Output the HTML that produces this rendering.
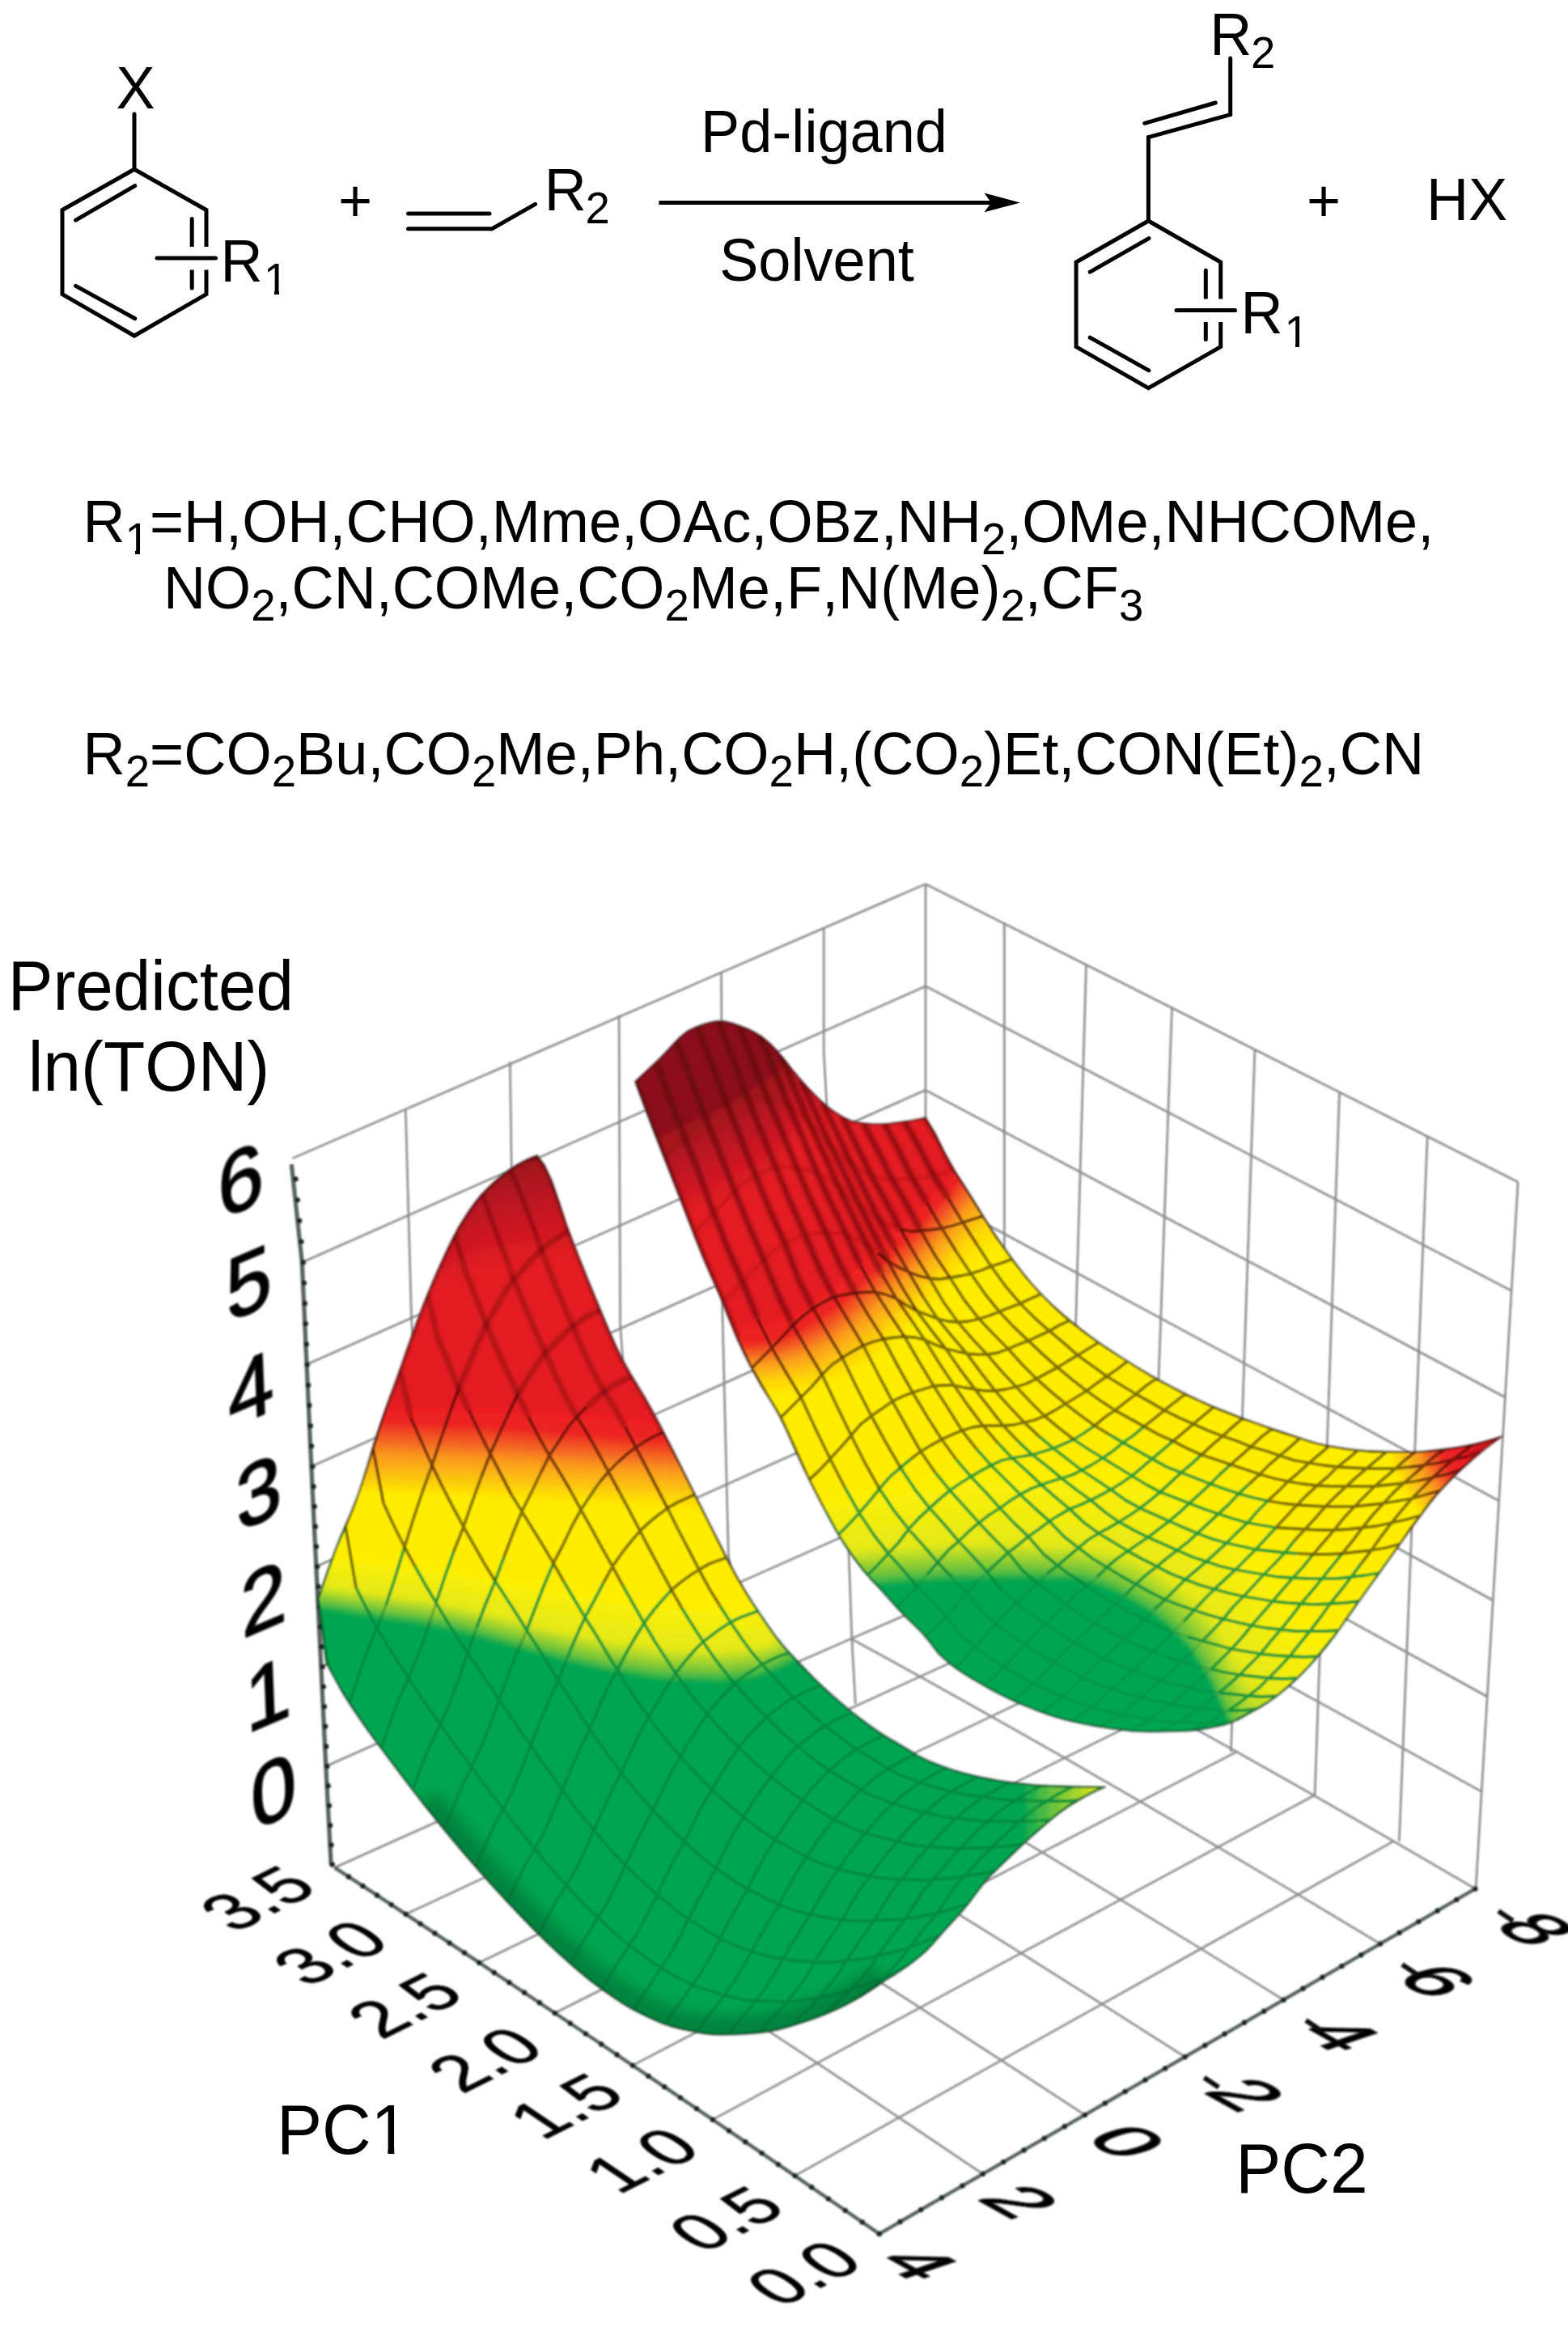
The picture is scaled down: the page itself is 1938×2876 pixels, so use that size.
<!DOCTYPE html>
<html><head><meta charset="utf-8"><title>Heck reaction figure</title>
<style>
html,body{margin:0;padding:0;background:#fff;}
svg{display:block;}
text{font-family:"Liberation Sans",Arial,Helvetica,sans-serif;fill:#000;font-kerning:none;}
</style></head><body>
<svg width="1938" height="2876" viewBox="0 0 1938 2876">
<rect width="1938" height="2876" fill="#fff"/>
<g id="plot">
<defs><filter id="blur6" x="-10%" y="-10%" width="120%" height="120%"><feGaussianBlur stdDeviation="9"/></filter><filter id="soft2" x="-2%" y="-2%" width="104%" height="104%"><feGaussianBlur stdDeviation="2.5"/><feComponentTransfer><feFuncA type="linear" slope="6" intercept="0"/></feComponentTransfer></filter><filter id="soft3" x="-5%" y="-5%" width="110%" height="110%"><feGaussianBlur stdDeviation="2.2"/></filter><filter id="soft" x="-2%" y="-2%" width="104%" height="104%"><feGaussianBlur stdDeviation="0.9"/></filter></defs>
<g filter="url(#soft)">
<g id="grid" fill="none">
<polyline points="402.8,2183.0 1161.0,1846.0" fill="none" stroke="#888b8b" stroke-width="2.6" />
<polyline points="1161.0,1846.0 1831.4,2214.3" fill="none" stroke="#888b8b" stroke-width="2.6" />
<polyline points="397.2,2060.0 1153.0,1720.0" fill="none" stroke="#888b8b" stroke-width="2.6" />
<polyline points="1153.0,1720.0 1838.4,2097.0" fill="none" stroke="#888b8b" stroke-width="2.6" />
<polyline points="390.6,1936.3 1148.0,1596.0" fill="none" stroke="#888b8b" stroke-width="2.6" />
<polyline points="1148.0,1596.0 1845.4,1978.0" fill="none" stroke="#888b8b" stroke-width="2.6" />
<polyline points="384.8,1812.5 1145.0,1473.0" fill="none" stroke="#888b8b" stroke-width="2.6" />
<polyline points="1145.0,1473.0 1852.8,1855.0" fill="none" stroke="#888b8b" stroke-width="2.6" />
<polyline points="378.2,1686.7 1144.0,1347.3" fill="none" stroke="#888b8b" stroke-width="2.6" />
<polyline points="1144.0,1347.3 1860.4,1727.0" fill="none" stroke="#888b8b" stroke-width="2.6" />
<polyline points="373.3,1560.3 1144.0,1218.9" fill="none" stroke="#888b8b" stroke-width="2.6" />
<polyline points="1144.0,1218.9 1868.3,1595.4" fill="none" stroke="#888b8b" stroke-width="2.6" />
<polyline points="361.5,1431.6 1144.0,1092.6" fill="none" stroke="#888b8b" stroke-width="2.6" />
<polyline points="1144.0,1092.6 1876.2,1460.9" fill="none" stroke="#888b8b" stroke-width="2.6" />
<polyline points="501.3,1371.7 508.5,1628.7 545.4,2249.2" fill="none" stroke="#888b8b" stroke-width="2.6" />
<polyline points="630.4,1312.2 633.0,1500.0 675.2,2191.4" fill="none" stroke="#888b8b" stroke-width="2.6" />
<polyline points="765.1,1254.7 766.6,1638.0 802.9,2134.9" fill="none" stroke="#888b8b" stroke-width="2.6" />
<polyline points="891.6,1200.9 892.9,1622.0 900.3,1922.0 928.4,2079.5" fill="none" stroke="#888b8b" stroke-width="2.6" />
<polyline points="1018.2,1147.1 1018.2,1300.0 1044.0,1774.7 1052.8,2025.0 1057.3,2106.0" fill="none" stroke="#888b8b" stroke-width="2.6" />
<polyline points="1144.0,1092.6 1144.0,1389.0 1173.0,1972.5" fill="none" stroke="#888b8b" stroke-width="2.6" />
<polyline points="1241.3,1141.5 1241.3,2017.1" fill="none" stroke="#888b8b" stroke-width="2.6" />
<polyline points="1342.5,1192.4 1317.2,2064.0" fill="none" stroke="#888b8b" stroke-width="2.6" />
<polyline points="1448.5,1245.8 1417.3,2113.4" fill="none" stroke="#888b8b" stroke-width="2.6" />
<polyline points="1550.9,1297.3 1521.4,2165.1" fill="none" stroke="#888b8b" stroke-width="2.6" />
<polyline points="1655.5,1349.9 1625.1,2219.1" fill="none" stroke="#888b8b" stroke-width="2.6" />
<polyline points="1764.2,1404.6 1729.4,2275.6" fill="none" stroke="#888b8b" stroke-width="2.6" />
<polyline points="1876.2,1460.9 1824.0,2335.0" fill="none" stroke="#888b8b" stroke-width="2.6" />
<polyline points="545.4,2249.2 632.9,2304.6 723.2,2362.4 816.1,2422.5 911.7,2485.0 1010.1,2549.9 1111.1,2617.2 1214.8,2686.8" fill="none" stroke="#888b8b" stroke-width="2.6" />
<polyline points="675.2,2191.4 762.2,2244.6 851.9,2300.3 944.2,2358.2 1039.3,2418.6 1137.1,2481.3 1237.6,2546.4 1340.8,2613.9" fill="none" stroke="#888b8b" stroke-width="2.6" />
<polyline points="802.9,2134.9 889.3,2185.9 978.4,2239.4 1070.3,2295.2 1164.8,2353.4 1262.0,2413.9 1362.0,2476.9 1464.6,2542.2" fill="none" stroke="#888b8b" stroke-width="2.6" />
<polyline points="928.4,2079.5 1014.3,2128.4 1102.9,2179.7 1194.2,2233.4 1288.2,2289.4 1384.9,2347.8 1484.3,2408.5 1586.4,2471.7" fill="none" stroke="#888b8b" stroke-width="2.6" />
<polyline points="1051.9,2025.4 1137.2,2072.1 1225.2,2121.3 1315.9,2172.7 1409.4,2226.6 1505.5,2282.8 1604.4,2341.5 1705.9,2402.4" fill="none" stroke="#888b8b" stroke-width="2.6" />
<polyline points="1173.2,1972.5 1257.9,2017.1 1345.4,2064.0 1435.6,2113.4 1528.5,2165.1 1624.1,2219.1 1722.4,2275.6 1823.4,2334.4" fill="none" stroke="#888b8b" stroke-width="2.6" />
<polyline points="413.5,2308.2 545.4,2249.2 675.2,2191.4 802.9,2134.9 928.4,2079.5 1051.9,2025.4 1173.2,1972.5" fill="none" stroke="#888b8b" stroke-width="2.6" />
<polyline points="501.6,2365.8 632.9,2304.6 762.2,2244.6 889.3,2185.9 1014.3,2128.4 1137.2,2072.1 1257.9,2017.1" fill="none" stroke="#888b8b" stroke-width="2.6" />
<polyline points="592.3,2425.7 723.2,2362.4 851.9,2300.3 978.4,2239.4 1102.9,2179.7 1225.2,2121.3 1345.4,2064.0" fill="none" stroke="#888b8b" stroke-width="2.6" />
<polyline points="685.8,2488.0 816.1,2422.5 944.2,2358.2 1070.3,2295.2 1194.2,2233.4 1315.9,2172.7 1435.6,2113.4" fill="none" stroke="#888b8b" stroke-width="2.6" />
<polyline points="782.0,2552.7 911.7,2485.0 1039.3,2418.6 1164.8,2353.4 1288.2,2289.4 1409.4,2226.6 1528.5,2165.1" fill="none" stroke="#888b8b" stroke-width="2.6" />
<polyline points="880.9,2619.7 1010.1,2549.9 1137.1,2481.3 1262.0,2413.9 1384.9,2347.8 1505.5,2282.8 1624.1,2219.1" fill="none" stroke="#888b8b" stroke-width="2.6" />
<polyline points="982.5,2689.1 1111.1,2617.2 1237.6,2546.4 1362.0,2476.9 1484.3,2408.5 1604.4,2341.5 1722.4,2275.6" fill="none" stroke="#888b8b" stroke-width="2.6" />
</g>
<g id="axes">
<polyline points="360.3,1439.0 373.3,1560.3 384.8,1812.5 402.8,2183.0 409.2,2305.0" fill="none" stroke="#55625f" stroke-width="5.2" />
<polyline points="413.5,2308.2 457.2,2336.7 501.6,2365.8 546.6,2395.4 592.3,2425.7 638.7,2456.5 685.8,2488.0 733.6,2520.0 782.0,2552.7 831.1,2585.9 880.9,2619.7 931.3,2654.1 982.5,2689.1 1034.3,2724.7 1086.8,2760.9" fill="none" stroke="#55625f" stroke-width="4.4" />
<polyline points="1086.8,2760.9 1151.1,2723.7 1214.8,2686.8 1278.1,2650.2 1340.8,2613.9 1403.0,2577.9 1464.6,2542.2 1525.8,2506.8 1586.4,2471.7 1646.4,2436.9 1705.9,2402.4 1764.9,2368.3 1823.4,2334.4" fill="none" stroke="#55625f" stroke-width="4.4" />
<circle cx="410.7" cy="2304.5" r="3.2" fill="#1a2422"/>
<circle cx="409.4" cy="2280.2" r="3.2" fill="#1a2422"/>
<circle cx="408.1" cy="2255.9" r="3.2" fill="#1a2422"/>
<circle cx="406.9" cy="2231.6" r="3.2" fill="#1a2422"/>
<circle cx="405.6" cy="2207.3" r="3.2" fill="#1a2422"/>
<circle cx="404.3" cy="2183.0" r="3.2" fill="#1a2422"/>
<circle cx="403.2" cy="2158.4" r="3.2" fill="#1a2422"/>
<circle cx="402.1" cy="2133.8" r="3.2" fill="#1a2422"/>
<circle cx="400.9" cy="2109.2" r="3.2" fill="#1a2422"/>
<circle cx="399.8" cy="2084.6" r="3.2" fill="#1a2422"/>
<circle cx="398.7" cy="2060.0" r="3.2" fill="#1a2422"/>
<circle cx="397.4" cy="2035.3" r="3.2" fill="#1a2422"/>
<circle cx="396.1" cy="2010.5" r="3.2" fill="#1a2422"/>
<circle cx="394.7" cy="1985.8" r="3.2" fill="#1a2422"/>
<circle cx="393.4" cy="1961.0" r="3.2" fill="#1a2422"/>
<circle cx="392.1" cy="1936.3" r="3.2" fill="#1a2422"/>
<circle cx="390.9" cy="1911.5" r="3.2" fill="#1a2422"/>
<circle cx="389.8" cy="1886.8" r="3.2" fill="#1a2422"/>
<circle cx="388.6" cy="1862.0" r="3.2" fill="#1a2422"/>
<circle cx="387.5" cy="1837.3" r="3.2" fill="#1a2422"/>
<circle cx="386.3" cy="1812.5" r="3.2" fill="#1a2422"/>
<circle cx="385.0" cy="1787.3" r="3.2" fill="#1a2422"/>
<circle cx="383.7" cy="1762.2" r="3.2" fill="#1a2422"/>
<circle cx="382.3" cy="1737.0" r="3.2" fill="#1a2422"/>
<circle cx="381.0" cy="1711.9" r="3.2" fill="#1a2422"/>
<circle cx="379.7" cy="1686.7" r="3.2" fill="#1a2422"/>
<circle cx="378.7" cy="1661.4" r="3.2" fill="#1a2422"/>
<circle cx="377.7" cy="1636.1" r="3.2" fill="#1a2422"/>
<circle cx="376.8" cy="1610.9" r="3.2" fill="#1a2422"/>
<circle cx="375.8" cy="1585.6" r="3.2" fill="#1a2422"/>
<circle cx="374.8" cy="1560.3" r="3.2" fill="#1a2422"/>
<circle cx="372.4" cy="1534.6" r="3.2" fill="#1a2422"/>
<circle cx="370.1" cy="1508.8" r="3.2" fill="#1a2422"/>
<circle cx="367.7" cy="1483.1" r="3.2" fill="#1a2422"/>
<circle cx="365.4" cy="1457.3" r="3.2" fill="#1a2422"/>
<circle cx="1086.8" cy="2760.9" r="3.2" fill="#1a2422"/>
<circle cx="1065.7" cy="2746.4" r="3.2" fill="#1a2422"/>
<circle cx="1044.7" cy="2731.9" r="3.2" fill="#1a2422"/>
<circle cx="1023.9" cy="2717.6" r="3.2" fill="#1a2422"/>
<circle cx="1003.1" cy="2703.3" r="3.2" fill="#1a2422"/>
<circle cx="982.5" cy="2689.1" r="3.2" fill="#1a2422"/>
<circle cx="961.9" cy="2675.1" r="3.2" fill="#1a2422"/>
<circle cx="941.5" cy="2661.1" r="3.2" fill="#1a2422"/>
<circle cx="921.2" cy="2647.2" r="3.2" fill="#1a2422"/>
<circle cx="901.0" cy="2633.4" r="3.2" fill="#1a2422"/>
<circle cx="880.9" cy="2619.7" r="3.2" fill="#1a2422"/>
<circle cx="860.9" cy="2606.1" r="3.2" fill="#1a2422"/>
<circle cx="841.0" cy="2592.6" r="3.2" fill="#1a2422"/>
<circle cx="821.2" cy="2579.2" r="3.2" fill="#1a2422"/>
<circle cx="801.5" cy="2565.9" r="3.2" fill="#1a2422"/>
<circle cx="782.0" cy="2552.7" r="3.2" fill="#1a2422"/>
<circle cx="762.5" cy="2539.5" r="3.2" fill="#1a2422"/>
<circle cx="743.2" cy="2526.5" r="3.2" fill="#1a2422"/>
<circle cx="723.9" cy="2513.6" r="3.2" fill="#1a2422"/>
<circle cx="704.8" cy="2500.7" r="3.2" fill="#1a2422"/>
<circle cx="685.8" cy="2488.0" r="3.2" fill="#1a2422"/>
<circle cx="666.9" cy="2475.3" r="3.2" fill="#1a2422"/>
<circle cx="648.1" cy="2462.8" r="3.2" fill="#1a2422"/>
<circle cx="629.4" cy="2450.3" r="3.2" fill="#1a2422"/>
<circle cx="610.8" cy="2438.0" r="3.2" fill="#1a2422"/>
<circle cx="592.3" cy="2425.7" r="3.2" fill="#1a2422"/>
<circle cx="574.0" cy="2413.5" r="3.2" fill="#1a2422"/>
<circle cx="555.7" cy="2401.4" r="3.2" fill="#1a2422"/>
<circle cx="537.5" cy="2389.4" r="3.2" fill="#1a2422"/>
<circle cx="519.5" cy="2377.6" r="3.2" fill="#1a2422"/>
<circle cx="501.6" cy="2365.8" r="3.2" fill="#1a2422"/>
<circle cx="483.7" cy="2354.1" r="3.2" fill="#1a2422"/>
<circle cx="466.0" cy="2342.5" r="3.2" fill="#1a2422"/>
<circle cx="448.4" cy="2330.9" r="3.2" fill="#1a2422"/>
<circle cx="430.9" cy="2319.5" r="3.2" fill="#1a2422"/>
<circle cx="1086.8" cy="2760.9" r="3.2" fill="#1a2422"/>
<circle cx="1112.5" cy="2746.0" r="3.2" fill="#1a2422"/>
<circle cx="1138.2" cy="2731.1" r="3.2" fill="#1a2422"/>
<circle cx="1163.9" cy="2716.3" r="3.2" fill="#1a2422"/>
<circle cx="1189.4" cy="2701.5" r="3.2" fill="#1a2422"/>
<circle cx="1214.8" cy="2686.8" r="3.2" fill="#1a2422"/>
<circle cx="1240.2" cy="2672.1" r="3.2" fill="#1a2422"/>
<circle cx="1265.5" cy="2657.5" r="3.2" fill="#1a2422"/>
<circle cx="1290.7" cy="2642.9" r="3.2" fill="#1a2422"/>
<circle cx="1315.8" cy="2628.3" r="3.2" fill="#1a2422"/>
<circle cx="1340.8" cy="2613.9" r="3.2" fill="#1a2422"/>
<circle cx="1365.7" cy="2599.4" r="3.2" fill="#1a2422"/>
<circle cx="1390.6" cy="2585.0" r="3.2" fill="#1a2422"/>
<circle cx="1415.4" cy="2570.7" r="3.2" fill="#1a2422"/>
<circle cx="1440.1" cy="2556.4" r="3.2" fill="#1a2422"/>
<circle cx="1464.6" cy="2542.2" r="3.2" fill="#1a2422"/>
<circle cx="1489.2" cy="2528.0" r="3.2" fill="#1a2422"/>
<circle cx="1513.6" cy="2513.8" r="3.2" fill="#1a2422"/>
<circle cx="1537.9" cy="2499.7" r="3.2" fill="#1a2422"/>
<circle cx="1562.2" cy="2485.7" r="3.2" fill="#1a2422"/>
<circle cx="1586.4" cy="2471.7" r="3.2" fill="#1a2422"/>
<circle cx="1610.4" cy="2457.7" r="3.2" fill="#1a2422"/>
<circle cx="1634.4" cy="2443.8" r="3.2" fill="#1a2422"/>
<circle cx="1658.4" cy="2430.0" r="3.2" fill="#1a2422"/>
<circle cx="1682.2" cy="2416.2" r="3.2" fill="#1a2422"/>
<circle cx="1705.9" cy="2402.4" r="3.2" fill="#1a2422"/>
<circle cx="1729.6" cy="2388.7" r="3.2" fill="#1a2422"/>
<circle cx="1753.2" cy="2375.1" r="3.2" fill="#1a2422"/>
<circle cx="1776.7" cy="2361.5" r="3.2" fill="#1a2422"/>
<circle cx="1800.1" cy="2347.9" r="3.2" fill="#1a2422"/>
<circle cx="1823.4" cy="2334.4" r="3.2" fill="#1a2422"/>
</g>
<g id="ticklabels">
<text transform="matrix(0.930 -0.400 0.040 1.000 299.0 1495.8)" font-size="108" text-anchor="middle" font-weight="normal" fill="#111" stroke="#111" stroke-width="2.2" stroke-linejoin="round">6</text>
<text transform="matrix(0.930 -0.400 0.040 1.000 309.0 1622.5)" font-size="108" text-anchor="middle" font-weight="normal" fill="#111" stroke="#111" stroke-width="2.2" stroke-linejoin="round">5</text>
<text transform="matrix(0.930 -0.400 0.040 1.000 311.5 1753.8)" font-size="108" text-anchor="middle" font-weight="normal" fill="#111" stroke="#111" stroke-width="2.2" stroke-linejoin="round">4</text>
<text transform="matrix(0.930 -0.400 0.040 1.000 321.1 1881.3)" font-size="108" text-anchor="middle" font-weight="normal" fill="#111" stroke="#111" stroke-width="2.2" stroke-linejoin="round">3</text>
<text transform="matrix(0.930 -0.400 0.040 1.000 327.3 2013.3)" font-size="108" text-anchor="middle" font-weight="normal" fill="#111" stroke="#111" stroke-width="2.2" stroke-linejoin="round">2</text>
<text transform="matrix(0.930 -0.400 0.040 1.000 332.7 2130.8)" font-size="108" text-anchor="middle" font-weight="normal" fill="#111" stroke="#111" stroke-width="2.2" stroke-linejoin="round">1</text>
<text transform="matrix(0.930 -0.400 0.040 1.000 339.7 2250.5)" font-size="108" text-anchor="middle" font-weight="normal" fill="#111" stroke="#111" stroke-width="2.2" stroke-linejoin="round">0</text>
<text transform="matrix(0.849 -0.425 0.788 0.532 342.8 2362.8)" font-size="90" text-anchor="middle" font-weight="normal" fill="#111" stroke="#111" stroke-width="1.0" stroke-linejoin="round">3.5</text>
<text transform="matrix(0.849 -0.425 0.788 0.532 432.8 2429.8)" font-size="90" text-anchor="middle" font-weight="normal" fill="#111" stroke="#111" stroke-width="1.0" stroke-linejoin="round">3.0</text>
<text transform="matrix(0.849 -0.425 0.788 0.532 524.6 2494.8)" font-size="90" text-anchor="middle" font-weight="normal" fill="#111" stroke="#111" stroke-width="1.0" stroke-linejoin="round">2.5</text>
<text transform="matrix(0.849 -0.425 0.788 0.532 624.1 2561.8)" font-size="90" text-anchor="middle" font-weight="normal" fill="#111" stroke="#111" stroke-width="1.0" stroke-linejoin="round">2.0</text>
<text transform="matrix(0.849 -0.425 0.788 0.532 723.6 2619.3)" font-size="90" text-anchor="middle" font-weight="normal" fill="#111" stroke="#111" stroke-width="1.0" stroke-linejoin="round">1.5</text>
<text transform="matrix(0.849 -0.425 0.788 0.532 817.4 2686.3)" font-size="90" text-anchor="middle" font-weight="normal" fill="#111" stroke="#111" stroke-width="1.0" stroke-linejoin="round">1.0</text>
<text transform="matrix(0.849 -0.425 0.788 0.532 921.8 2758.8)" font-size="90" text-anchor="middle" font-weight="normal" fill="#111" stroke="#111" stroke-width="1.0" stroke-linejoin="round">0.5</text>
<text transform="matrix(0.849 -0.425 0.788 0.532 1017.8 2825.8)" font-size="90" text-anchor="middle" font-weight="normal" fill="#111" stroke="#111" stroke-width="1.0" stroke-linejoin="round">0.0</text>
<text transform="matrix(0.944 0.525 -0.950 0.320 1106.5 2807.6)" font-size="93" text-anchor="middle" font-weight="normal" fill="#111" stroke="#111" stroke-width="2.4" stroke-linejoin="round">4</text>
<text transform="matrix(0.944 0.525 -0.950 0.320 1230.2 2731.1)" font-size="93" text-anchor="middle" font-weight="normal" fill="#111" stroke="#111" stroke-width="2.4" stroke-linejoin="round">2</text>
<text transform="matrix(0.944 0.525 -0.950 0.320 1362.9 2657.1)" font-size="93" text-anchor="middle" font-weight="normal" fill="#111" stroke="#111" stroke-width="2.4" stroke-linejoin="round">0</text>
<text transform="matrix(0.944 0.525 -0.950 0.320 1509.9 2598.7)" font-size="93" text-anchor="middle" font-weight="normal" fill="#111" stroke="#111" stroke-width="2.4" stroke-linejoin="round">2</text>
<text transform="matrix(0.944 0.525 -0.950 0.320 1627.3 2525.4)" font-size="93" text-anchor="middle" font-weight="normal" fill="#111" stroke="#111" stroke-width="2.4" stroke-linejoin="round">4</text>
<text transform="matrix(0.944 0.525 -0.950 0.320 1746.1 2458.4)" font-size="93" text-anchor="middle" font-weight="normal" fill="#111" stroke="#111" stroke-width="2.4" stroke-linejoin="round">6</text>
<text transform="matrix(0.944 0.525 -0.950 0.320 1868.1 2394.4)" font-size="93" text-anchor="middle" font-weight="normal" fill="#111" stroke="#111" stroke-width="2.4" stroke-linejoin="round">8</text>
<line x1="1488.3" y1="2567.8" x2="1506.3" y2="2579.8" stroke="#111" stroke-width="6"/>
<line x1="1614.0" y1="2497.0" x2="1632.0" y2="2509.0" stroke="#111" stroke-width="6"/>
<line x1="1733.0" y1="2428.0" x2="1751.0" y2="2440.0" stroke="#111" stroke-width="6"/>
<line x1="1852.0" y1="2362.0" x2="1870.0" y2="2374.0" stroke="#111" stroke-width="6"/>
</g>
<g id="S2">
<clipPath id="cpS2"><path d="M785.1 1336.8 794.3 1328.1 803.5 1319.4 812.7 1310.7 821.9 1301.5 831.1 1291.5 840.3 1282.1 849.5 1274.6 858.7 1270.0 867.9 1266.5 877.1 1263.7 886.3 1262.1 895.5 1262.3 904.7 1264.5 913.9 1267.7 923.1 1271.1 932.3 1275.6 941.5 1281.2 950.7 1288.7 959.9 1298.0 969.2 1309.1 978.4 1321.0 987.6 1331.9 996.8 1342.5 1006.0 1352.0 1015.2 1361.0 1024.4 1369.0 1033.6 1375.4 1042.8 1381.0 1052.0 1385.2 1061.2 1387.2 1070.4 1388.5 1079.6 1389.3 1088.8 1389.3 1098.0 1388.7 1107.2 1387.6 1116.4 1386.3 1125.6 1385.0 1134.8 1383.3 1144.0 1381.3 1156.1 1401.3 1168.2 1425.8 1180.3 1447.6 1192.3 1466.0 1204.4 1485.2 1216.5 1505.0 1228.6 1524.0 1240.7 1541.4 1252.8 1558.2 1264.8 1574.1 1276.9 1588.6 1289.0 1601.6 1301.1 1613.3 1313.2 1624.1 1325.3 1634.2 1337.4 1643.8 1349.4 1652.9 1361.5 1661.4 1373.6 1669.6 1385.7 1677.4 1397.8 1685.1 1409.9 1692.5 1421.9 1699.6 1434.0 1706.4 1446.1 1712.9 1458.2 1719.2 1470.3 1725.2 1482.4 1730.9 1494.5 1736.3 1506.5 1741.3 1518.6 1746.1 1530.7 1750.8 1542.8 1755.3 1554.9 1759.7 1567.0 1763.9 1579.1 1768.0 1591.1 1772.0 1603.2 1776.1 1615.3 1780.1 1627.4 1783.7 1639.5 1786.5 1651.6 1788.6 1663.6 1790.6 1675.7 1792.1 1687.8 1793.1 1699.9 1793.6 1712.0 1794.0 1724.1 1794.3 1736.2 1794.5 1748.2 1794.4 1760.3 1793.7 1772.4 1792.5 1784.5 1791.1 1796.6 1789.6 1808.7 1787.5 1820.7 1785.0 1832.8 1782.1 1844.9 1778.8 1857.0 1775.0 1847.9 1781.4 1838.8 1788.3 1829.8 1795.6 1820.7 1803.3 1811.6 1811.3 1802.5 1819.7 1793.5 1828.5 1784.4 1838.0 1775.3 1848.1 1766.2 1859.3 1757.2 1871.4 1748.1 1883.7 1739.0 1896.2 1729.9 1909.1 1720.8 1921.8 1711.8 1934.5 1702.7 1947.2 1693.6 1959.8 1684.5 1972.5 1675.5 1985.2 1666.4 1998.1 1657.3 2011.0 1648.2 2023.5 1639.2 2035.0 1630.1 2046.0 1621.0 2056.2 1611.9 2065.9 1602.8 2075.0 1593.8 2083.3 1584.7 2091.0 1575.6 2098.1 1566.5 2104.5 1557.5 2110.1 1548.4 2115.3 1539.3 2120.3 1530.2 2125.3 1521.2 2129.3 1512.1 2132.1 1503.0 2134.0 1492.6 2136.1 1482.2 2137.9 1471.8 2139.1 1461.4 2139.5 1451.0 2139.8 1440.6 2140.1 1430.2 2140.2 1419.8 2140.3 1409.4 2140.1 1399.0 2139.4 1388.6 2138.2 1378.1 2136.9 1367.7 2135.4 1357.3 2133.9 1346.9 2132.1 1336.5 2130.1 1326.1 2127.7 1315.7 2125.2 1305.3 2122.3 1294.9 2118.9 1284.5 2115.2 1274.1 2111.1 1263.7 2106.9 1253.3 2102.4 1242.9 2097.5 1232.5 2092.3 1222.1 2086.8 1211.7 2080.8 1201.3 2074.7 1190.9 2068.3 1180.5 2061.2 1170.1 2053.1 1159.7 2043.5 1149.3 2029.8 1138.8 2017.3 1128.4 2007.1 1118.0 1997.1 1107.6 1985.9 1097.2 1974.2 1086.8 1962.7 1076.4 1951.7 1066.0 1939.8 1055.6 1926.2 1045.2 1911.1 1034.8 1894.4 1024.4 1875.7 1014.0 1856.1 1003.6 1835.7 993.2 1814.5 982.8 1792.1 972.4 1768.4 962.0 1747.2 951.6 1729.7 941.2 1713.2 930.8 1694.9 920.4 1674.5 910.0 1652.1 899.5 1626.5 889.1 1600.3 878.7 1576.7 868.3 1552.8 857.9 1526.6 847.5 1499.4 837.1 1472.7 826.7 1446.1 816.3 1419.4 805.9 1392.7 795.5 1365.2Z"/></clipPath>
<g clip-path="url(#cpS2)"><g filter="url(#soft2)">
<path d="M785 1337 794 1328 804 1319 813 1311 822 1302 831 1292 840 1282 850 1275 859 1270 868 1266 877 1264 886 1262 896 1262 905 1265 914 1268 923 1271 932 1276 942 1281 951 1289 960 1298 969 1309 978 1321 988 1332 997 1342 1006 1352 1015 1361 1024 1369 1034 1375 1043 1381 1052 1385 1061 1387 1070 1388 1080 1389 1089 1389 1098 1389 1107 1388 1116 1386 1126 1385 1135 1383 1144 1381 1156 1401 1168 1426 1180 1448 1192 1466 1204 1485 1217 1505 1229 1524 1241 1541 1253 1558 1265 1574 1277 1589 1289 1602 1301 1613 1313 1624 1325 1634 1337 1644 1349 1653 1362 1661 1374 1670 1386 1677 1398 1685 1410 1693 1422 1700 1434 1706 1446 1713 1458 1719 1470 1725 1482 1731 1494 1736 1507 1741 1519 1746 1531 1751 1543 1755 1555 1760 1567 1764 1579 1768 1591 1772 1603 1776 1615 1780 1627 1784 1639 1786 1652 1789 1664 1791 1676 1792 1688 1793 1700 1794 1712 1794 1724 1794 1736 1794 1748 1794 1760 1794 1772 1793 1784 1791 1797 1790 1809 1788 1821 1785 1833 1782 1845 1779 1857 1775 1848 1781 1839 1788 1830 1796 1821 1803 1812 1811 1803 1820 1793 1829 1784 1838 1775 1848 1766 1859 1757 1871 1748 1884 1739 1896 1730 1909 1721 1922 1712 1935 1703 1947 1694 1960 1685 1973 1675 1985 1666 1998 1657 2011 1648 2024 1639 2035 1630 2046 1621 2056 1612 2066 1603 2075 1594 2083 1585 2091 1576 2098 1567 2104 1557 2110 1548 2115 1539 2120 1530 2125 1521 2129 1512 2132 1503 2134 1493 2136 1482 2138 1472 2139 1461 2140 1451 2140 1441 2140 1430 2140 1420 2140 1409 2140 1399 2139 1389 2138 1378 2137 1368 2135 1357 2134 1347 2132 1337 2130 1326 2128 1316 2125 1305 2122 1295 2119 1285 2115 1274 2111 1264 2107 1253 2102 1243 2098 1232 2092 1222 2087 1212 2081 1201 2075 1191 2068 1180 2061 1170 2053 1160 2043 1149 2030 1139 2017 1128 2007 1118 1997 1108 1986 1097 1974 1087 1963 1076 1952 1066 1940 1056 1926 1045 1911 1035 1894 1024 1876 1014 1856 1004 1836 993 1814 983 1792 972 1768 962 1747 952 1730 941 1713 931 1695 920 1674 910 1652 900 1626 889 1600 879 1577 868 1553 858 1527 848 1499 837 1473 827 1446 816 1419 806 1393 796 1365Z" fill="#8d0f1b" stroke="#8d0f1b" stroke-width="4"/>
<path d="M775 1425 798 1415 822 1402 845 1390 868 1380 891 1369 914 1355 938 1340 961 1324 984 1292 1007 1263 1031 1242 1054 1221 1077 1213 1100 1211 1124 1208 1147 1206 1170 1203 1193 1201 1217 1198 1240 1196 1263 1193 1286 1191 1309 1188 1333 1186 1356 1183 1379 1181 1402 1178 1426 1176 1449 1173 1472 1171 1495 1168 1519 1166 1542 1163 1565 1161 1588 1158 1611 1156 1635 1153 1658 1151 1681 1148 1704 1146 1728 1143 1751 1141 1774 1138 1797 1136 1821 1134 1844 1131 1867 1129 1867 2160 775 2160Z" fill="#a2121e"/>
<path d="M775 1434 798 1424 822 1411 845 1399 868 1389 891 1378 914 1364 938 1349 961 1332 984 1300 1007 1272 1031 1251 1054 1229 1077 1222 1100 1219 1124 1217 1147 1214 1170 1212 1193 1209 1217 1207 1240 1204 1263 1202 1286 1200 1309 1197 1333 1195 1356 1192 1379 1190 1402 1187 1426 1185 1449 1182 1472 1180 1495 1177 1519 1175 1542 1172 1565 1170 1588 1167 1611 1165 1635 1162 1658 1160 1681 1157 1704 1155 1728 1152 1751 1150 1774 1147 1797 1145 1821 1142 1844 1140 1867 1137 1867 2160 775 2160Z" fill="#a8121e"/>
<path d="M775 1442 798 1433 822 1420 845 1408 868 1397 891 1387 914 1373 938 1357 961 1341 984 1309 1007 1281 1031 1259 1054 1238 1077 1231 1100 1228 1124 1226 1147 1223 1170 1221 1193 1218 1217 1216 1240 1213 1263 1211 1286 1208 1309 1206 1333 1203 1356 1201 1379 1198 1402 1196 1426 1193 1449 1191 1472 1188 1495 1186 1519 1183 1542 1181 1565 1178 1588 1176 1611 1173 1635 1171 1658 1168 1681 1166 1704 1163 1728 1161 1751 1158 1774 1156 1797 1154 1821 1151 1844 1149 1867 1146 1867 2160 775 2160Z" fill="#ab151e"/>
<path d="M775 1451 798 1441 822 1429 845 1417 868 1406 891 1395 914 1382 938 1366 961 1350 984 1318 1007 1289 1031 1268 1054 1247 1077 1239 1100 1237 1124 1234 1147 1232 1170 1229 1193 1227 1217 1224 1240 1222 1263 1220 1286 1217 1309 1215 1333 1212 1356 1210 1379 1207 1402 1205 1426 1202 1449 1200 1472 1197 1495 1195 1519 1192 1542 1190 1565 1187 1588 1185 1611 1182 1635 1180 1658 1177 1681 1175 1704 1172 1728 1170 1751 1167 1774 1165 1797 1162 1821 1160 1844 1157 1867 1155 1867 2160 775 2160Z" fill="#b11521"/>
<path d="M775 1460 798 1450 822 1437 845 1425 868 1415 891 1404 914 1390 938 1375 961 1359 984 1327 1007 1298 1031 1277 1054 1256 1077 1248 1100 1246 1124 1243 1147 1241 1170 1238 1193 1236 1217 1233 1240 1231 1263 1228 1286 1226 1309 1223 1333 1221 1356 1218 1379 1216 1402 1213 1426 1211 1449 1208 1472 1206 1495 1203 1519 1201 1542 1198 1565 1196 1588 1193 1611 1191 1635 1188 1658 1186 1681 1183 1704 1181 1728 1178 1751 1176 1774 1173 1797 1171 1821 1169 1844 1166 1867 1164 1867 2160 775 2160Z" fill="#b71521"/>
<path d="M775 1469 798 1459 822 1446 845 1434 868 1424 891 1413 914 1399 938 1384 961 1367 984 1335 1007 1307 1031 1286 1054 1264 1077 1257 1100 1254 1124 1252 1147 1249 1170 1247 1193 1244 1217 1242 1240 1239 1263 1237 1286 1235 1309 1232 1333 1230 1356 1227 1379 1225 1402 1222 1426 1220 1449 1217 1472 1215 1495 1212 1519 1210 1542 1207 1565 1205 1588 1202 1611 1200 1635 1197 1658 1195 1681 1192 1704 1190 1728 1187 1751 1185 1774 1182 1797 1180 1821 1177 1844 1175 1867 1172 1867 2160 775 2160Z" fill="#bd1521"/>
<path d="M775 1478 798 1468 822 1455 845 1443 868 1432 891 1422 914 1408 938 1392 961 1376 984 1344 1007 1316 1031 1294 1054 1273 1077 1266 1100 1263 1124 1261 1147 1258 1170 1256 1193 1253 1217 1251 1240 1248 1263 1246 1286 1243 1309 1241 1333 1238 1356 1236 1379 1233 1402 1231 1426 1228 1449 1226 1472 1223 1495 1221 1519 1218 1542 1216 1565 1213 1588 1211 1611 1208 1635 1206 1658 1203 1681 1201 1704 1198 1728 1196 1751 1193 1774 1191 1797 1189 1821 1186 1844 1184 1867 1181 1867 2160 775 2160Z" fill="#c01521"/>
<path d="M775 1486 798 1476 822 1464 845 1452 868 1441 891 1430 914 1417 938 1401 961 1385 984 1353 1007 1324 1031 1303 1054 1282 1077 1274 1100 1272 1124 1269 1147 1267 1170 1264 1193 1262 1217 1259 1240 1257 1263 1255 1286 1252 1309 1250 1333 1247 1356 1245 1379 1242 1402 1240 1426 1237 1449 1235 1472 1232 1495 1230 1519 1227 1542 1225 1565 1222 1588 1220 1611 1217 1635 1215 1658 1212 1681 1210 1704 1207 1728 1205 1751 1202 1774 1200 1797 1197 1821 1195 1844 1192 1867 1190 1867 2160 775 2160Z" fill="#c61821"/>
<path d="M775 1495 798 1485 822 1472 845 1460 868 1450 891 1439 914 1425 938 1410 961 1394 984 1362 1007 1333 1031 1312 1054 1291 1077 1283 1100 1281 1124 1278 1147 1276 1170 1273 1193 1271 1217 1268 1240 1266 1263 1263 1286 1261 1309 1258 1333 1256 1356 1253 1379 1251 1402 1248 1426 1246 1449 1243 1472 1241 1495 1238 1519 1236 1542 1233 1565 1231 1588 1228 1611 1226 1635 1223 1658 1221 1681 1218 1704 1216 1728 1213 1751 1211 1774 1208 1797 1206 1821 1204 1844 1201 1867 1199 1867 2160 775 2160Z" fill="#cc1821"/>
<path d="M775 1503 798 1493 822 1480 845 1469 868 1458 891 1448 914 1434 938 1419 961 1403 984 1371 1007 1343 1031 1322 1054 1300 1077 1293 1100 1290 1124 1287 1147 1284 1170 1281 1193 1278 1217 1276 1240 1273 1263 1271 1286 1268 1309 1266 1333 1263 1356 1261 1379 1258 1402 1256 1426 1253 1449 1251 1472 1248 1495 1246 1519 1244 1542 1241 1565 1239 1588 1236 1611 1234 1635 1231 1658 1229 1681 1226 1704 1224 1728 1221 1751 1219 1774 1216 1797 1214 1821 1211 1844 1209 1867 1206 1867 2160 775 2160Z" fill="#cf1821"/>
<path d="M775 1509 798 1499 822 1487 845 1476 868 1466 891 1456 914 1443 938 1428 961 1412 984 1382 1007 1354 1031 1333 1054 1312 1077 1303 1100 1300 1124 1296 1147 1292 1170 1289 1193 1285 1217 1282 1240 1279 1263 1277 1286 1274 1309 1272 1333 1269 1356 1267 1379 1264 1402 1262 1426 1260 1449 1257 1472 1255 1495 1252 1519 1250 1542 1247 1565 1245 1588 1242 1611 1240 1635 1238 1658 1235 1681 1233 1704 1230 1728 1228 1751 1225 1774 1223 1797 1220 1821 1218 1844 1215 1867 1213 1867 2160 775 2160Z" fill="#d51821"/>
<path d="M775 1515 798 1506 822 1494 845 1483 868 1473 891 1464 914 1451 938 1437 961 1422 984 1392 1007 1365 1031 1344 1054 1323 1077 1314 1100 1310 1124 1305 1147 1301 1170 1296 1193 1291 1217 1287 1240 1285 1263 1283 1286 1280 1309 1278 1333 1275 1356 1273 1379 1270 1402 1268 1426 1266 1449 1263 1472 1261 1495 1258 1519 1256 1542 1254 1565 1251 1588 1249 1611 1246 1635 1244 1658 1241 1681 1239 1704 1237 1728 1234 1751 1232 1774 1229 1797 1227 1821 1225 1844 1222 1867 1220 1867 2160 775 2160Z" fill="#d81b24"/>
<path d="M775 1521 798 1512 822 1501 845 1491 868 1481 891 1472 914 1460 938 1446 961 1431 984 1403 1007 1376 1031 1355 1054 1334 1077 1324 1100 1319 1124 1314 1147 1309 1170 1304 1193 1298 1217 1293 1240 1291 1263 1288 1286 1286 1309 1284 1333 1281 1356 1279 1379 1276 1402 1274 1426 1272 1449 1269 1472 1267 1495 1265 1519 1262 1542 1260 1565 1257 1588 1255 1611 1253 1635 1250 1658 1248 1681 1245 1704 1243 1728 1241 1751 1238 1774 1236 1797 1234 1821 1231 1844 1229 1867 1226 1867 2160 775 2160Z" fill="#de1b24"/>
<path d="M775 1527 798 1519 822 1508 845 1498 868 1489 891 1480 914 1468 938 1455 961 1441 984 1413 1007 1387 1031 1366 1054 1345 1077 1335 1100 1329 1124 1323 1147 1317 1170 1311 1193 1304 1217 1299 1240 1297 1263 1294 1286 1292 1309 1290 1333 1287 1356 1285 1379 1283 1402 1280 1426 1278 1449 1275 1472 1273 1495 1271 1519 1268 1542 1266 1565 1264 1588 1261 1611 1259 1635 1257 1658 1254 1681 1252 1704 1250 1728 1247 1751 1245 1774 1242 1797 1240 1821 1238 1844 1235 1867 1233 1867 2160 775 2160Z" fill="#e11b24"/>
<path d="M775 1533 798 1525 822 1515 845 1505 868 1497 891 1488 914 1477 938 1464 961 1451 984 1423 1007 1398 1031 1378 1054 1356 1077 1346 1100 1339 1124 1332 1147 1325 1170 1318 1193 1311 1217 1305 1240 1302 1263 1300 1286 1298 1309 1296 1333 1293 1356 1291 1379 1289 1402 1286 1426 1284 1449 1282 1472 1279 1495 1277 1519 1275 1542 1272 1565 1270 1588 1268 1611 1265 1635 1263 1658 1261 1681 1258 1704 1256 1728 1254 1751 1251 1774 1249 1797 1247 1821 1244 1844 1242 1867 1240 1867 2160 775 2160Z" fill="#e41b24"/>
<path d="M775 1648 798 1647 822 1645 845 1644 868 1642 891 1640 914 1639 938 1635 961 1631 984 1620 1007 1604 1031 1588 1054 1567 1077 1545 1100 1524 1124 1503 1147 1481 1170 1458 1193 1433 1217 1415 1240 1413 1263 1411 1286 1409 1309 1408 1333 1406 1356 1404 1379 1402 1402 1400 1426 1399 1449 1397 1472 1395 1495 1393 1519 1392 1542 1390 1565 1388 1588 1386 1611 1385 1635 1383 1658 1381 1681 1379 1704 1378 1728 1376 1751 1374 1774 1372 1797 1371 1821 1369 1844 1367 1867 1365 1867 2160 775 2160Z" fill="#ed1e24"/>
<path d="M775 1652 798 1651 822 1649 845 1648 868 1646 891 1645 914 1644 938 1640 961 1636 984 1626 1007 1610 1031 1594 1054 1573 1077 1551 1100 1530 1124 1508 1147 1485 1170 1462 1193 1437 1217 1418 1240 1416 1263 1414 1286 1413 1309 1411 1333 1409 1356 1407 1379 1406 1402 1404 1426 1402 1449 1400 1472 1399 1495 1397 1519 1395 1542 1393 1565 1392 1588 1390 1611 1388 1635 1387 1658 1385 1681 1383 1704 1381 1728 1380 1751 1378 1774 1376 1797 1374 1821 1373 1844 1371 1867 1369 1867 2160 775 2160Z" fill="#ed2124"/>
<path d="M775 1655 798 1654 822 1653 845 1652 868 1651 891 1650 914 1648 938 1646 961 1642 984 1632 1007 1616 1031 1601 1054 1580 1077 1557 1100 1535 1124 1513 1147 1490 1170 1466 1193 1440 1217 1421 1240 1419 1263 1418 1286 1416 1309 1414 1333 1413 1356 1411 1379 1409 1402 1407 1426 1406 1449 1404 1472 1402 1495 1400 1519 1399 1542 1397 1565 1395 1588 1394 1611 1392 1635 1390 1658 1388 1681 1387 1704 1385 1728 1383 1751 1382 1774 1380 1797 1378 1821 1376 1844 1375 1867 1373 1867 2160 775 2160Z" fill="#ed2424"/>
<path d="M775 1659 798 1658 822 1657 845 1656 868 1655 891 1654 914 1653 938 1651 961 1647 984 1638 1007 1622 1031 1607 1054 1586 1077 1563 1100 1541 1124 1518 1147 1495 1170 1470 1193 1444 1217 1425 1240 1423 1263 1421 1286 1419 1309 1418 1333 1416 1356 1414 1379 1413 1402 1411 1426 1409 1449 1407 1472 1406 1495 1404 1519 1402 1542 1401 1565 1399 1588 1397 1611 1395 1635 1394 1658 1392 1681 1390 1704 1389 1728 1387 1751 1385 1774 1384 1797 1382 1821 1380 1844 1378 1867 1377 1867 2160 775 2160Z" fill="#ed2424"/>
<path d="M775 1662 798 1662 822 1661 845 1660 868 1660 891 1659 914 1658 938 1656 961 1653 984 1644 1007 1629 1031 1614 1054 1593 1077 1569 1100 1546 1124 1524 1147 1499 1170 1475 1193 1448 1217 1428 1240 1426 1263 1424 1286 1423 1309 1421 1333 1419 1356 1418 1379 1416 1402 1414 1426 1413 1449 1411 1472 1409 1495 1408 1519 1406 1542 1404 1565 1402 1588 1401 1611 1399 1635 1397 1658 1396 1681 1394 1704 1392 1728 1391 1751 1389 1774 1387 1797 1386 1821 1384 1844 1382 1867 1380 1867 2160 775 2160Z" fill="#ed2724"/>
<path d="M775 1666 798 1666 822 1665 845 1665 868 1664 891 1664 914 1663 938 1661 961 1658 984 1650 1007 1635 1031 1620 1054 1600 1077 1577 1100 1554 1124 1530 1147 1506 1170 1481 1193 1454 1217 1434 1240 1431 1263 1428 1286 1427 1309 1425 1333 1423 1356 1422 1379 1420 1402 1418 1426 1417 1449 1415 1472 1413 1495 1412 1519 1410 1542 1408 1565 1407 1588 1405 1611 1403 1635 1402 1658 1400 1681 1398 1704 1397 1728 1395 1751 1393 1774 1391 1797 1390 1821 1388 1844 1386 1867 1385 1867 2160 775 2160Z" fill="#f03c24"/>
<path d="M775 1671 798 1670 822 1670 845 1669 868 1669 891 1668 914 1668 938 1666 961 1663 984 1655 1007 1642 1031 1627 1054 1607 1077 1585 1100 1562 1124 1539 1147 1514 1170 1489 1193 1462 1217 1442 1240 1437 1263 1433 1286 1431 1309 1430 1333 1428 1356 1426 1379 1425 1402 1423 1426 1421 1449 1420 1472 1418 1495 1416 1519 1415 1542 1413 1565 1411 1588 1410 1611 1408 1635 1406 1658 1405 1681 1403 1704 1401 1728 1400 1751 1398 1774 1396 1797 1395 1821 1393 1844 1391 1867 1390 1867 2160 775 2160Z" fill="#f35121"/>
<path d="M775 1675 798 1675 822 1674 845 1674 868 1673 891 1673 914 1672 938 1670 961 1668 984 1661 1007 1648 1031 1634 1054 1615 1077 1594 1100 1571 1124 1547 1147 1523 1170 1497 1193 1470 1217 1450 1240 1444 1263 1438 1286 1436 1309 1434 1333 1433 1356 1431 1379 1429 1402 1428 1426 1426 1449 1424 1472 1423 1495 1421 1519 1419 1542 1418 1565 1416 1588 1414 1611 1413 1635 1411 1658 1409 1681 1408 1704 1406 1728 1404 1751 1403 1774 1401 1797 1399 1821 1398 1844 1396 1867 1394 1867 2160 775 2160Z" fill="#f36321"/>
<path d="M775 1680 798 1680 822 1679 845 1678 868 1678 891 1677 914 1677 938 1675 961 1672 984 1666 1007 1655 1031 1641 1054 1623 1077 1602 1100 1579 1124 1556 1147 1531 1170 1506 1193 1479 1217 1458 1240 1450 1263 1442 1286 1441 1309 1439 1333 1437 1356 1436 1379 1434 1402 1432 1426 1431 1449 1429 1472 1427 1495 1426 1519 1424 1542 1422 1565 1421 1588 1419 1611 1417 1635 1416 1658 1414 1681 1412 1704 1411 1728 1409 1751 1407 1774 1406 1797 1404 1821 1402 1844 1401 1867 1399 1867 2160 775 2160Z" fill="#f67821"/>
<path d="M775 1685 798 1684 822 1684 845 1683 868 1682 891 1682 914 1681 938 1680 961 1677 984 1671 1007 1661 1031 1648 1054 1631 1077 1611 1100 1588 1124 1564 1147 1540 1170 1514 1193 1487 1217 1466 1240 1456 1263 1447 1286 1445 1309 1444 1333 1442 1356 1440 1379 1439 1402 1437 1426 1435 1449 1434 1472 1432 1495 1430 1519 1429 1542 1427 1565 1425 1588 1424 1611 1422 1635 1420 1658 1419 1681 1417 1704 1415 1728 1414 1751 1412 1774 1410 1797 1409 1821 1407 1844 1405 1867 1404 1867 2160 775 2160Z" fill="#f98d1e"/>
<path d="M775 1689 798 1689 822 1688 845 1688 868 1687 891 1687 914 1686 938 1685 961 1682 984 1677 1007 1668 1031 1655 1054 1639 1077 1619 1100 1596 1124 1573 1147 1548 1170 1522 1193 1495 1217 1475 1240 1462 1263 1452 1286 1450 1309 1448 1333 1447 1356 1445 1379 1443 1402 1442 1426 1440 1449 1438 1472 1437 1495 1435 1519 1433 1542 1432 1565 1430 1588 1428 1611 1427 1635 1425 1658 1423 1681 1422 1704 1420 1728 1418 1751 1417 1774 1415 1797 1414 1821 1412 1844 1410 1867 1409 1867 2160 775 2160Z" fill="#f99f1e"/>
<path d="M775 1694 798 1693 822 1693 845 1692 868 1692 891 1691 914 1691 938 1689 961 1687 984 1682 1007 1675 1031 1662 1054 1646 1077 1628 1100 1605 1124 1581 1147 1556 1170 1530 1193 1503 1217 1483 1240 1469 1263 1456 1286 1455 1309 1453 1333 1451 1356 1450 1379 1448 1402 1446 1426 1445 1449 1443 1472 1441 1495 1440 1519 1438 1542 1436 1565 1435 1588 1433 1611 1431 1635 1430 1658 1428 1681 1427 1704 1425 1728 1423 1751 1422 1774 1420 1797 1418 1821 1417 1844 1415 1867 1413 1867 2160 775 2160Z" fill="#fcab18"/>
<path d="M775 1698 798 1698 822 1697 845 1697 868 1696 891 1696 914 1695 938 1694 961 1692 984 1688 1007 1681 1031 1669 1054 1654 1077 1636 1100 1613 1124 1590 1147 1565 1170 1539 1193 1512 1217 1491 1240 1475 1263 1461 1286 1459 1309 1458 1333 1456 1356 1454 1379 1453 1402 1451 1426 1449 1449 1448 1472 1446 1495 1444 1519 1443 1542 1441 1565 1439 1588 1438 1611 1436 1635 1435 1658 1433 1681 1431 1704 1430 1728 1428 1751 1426 1774 1425 1797 1423 1821 1421 1844 1420 1867 1418 1867 2160 775 2160Z" fill="#fcb715"/>
<path d="M775 1703 798 1702 822 1702 845 1701 868 1701 891 1700 914 1700 938 1699 961 1697 984 1693 1007 1688 1031 1675 1054 1662 1077 1645 1100 1622 1124 1598 1147 1573 1170 1547 1193 1520 1217 1499 1240 1481 1263 1466 1286 1464 1309 1462 1333 1461 1356 1459 1379 1457 1402 1456 1426 1454 1449 1452 1472 1451 1495 1449 1519 1447 1542 1446 1565 1444 1588 1443 1611 1441 1635 1439 1658 1438 1681 1436 1704 1434 1728 1433 1751 1431 1774 1429 1797 1428 1821 1426 1844 1424 1867 1423 1867 2160 775 2160Z" fill="#fcc30f"/>
<path d="M775 1707 798 1707 822 1706 845 1706 868 1705 891 1705 914 1704 938 1704 961 1702 984 1699 1007 1694 1031 1682 1054 1670 1077 1653 1100 1630 1124 1607 1147 1582 1170 1555 1193 1528 1217 1507 1240 1488 1263 1470 1286 1469 1309 1467 1333 1465 1356 1464 1379 1462 1402 1460 1426 1459 1449 1457 1472 1455 1495 1454 1519 1452 1542 1451 1565 1449 1588 1447 1611 1446 1635 1444 1658 1442 1681 1441 1704 1439 1728 1437 1751 1436 1774 1434 1797 1432 1821 1431 1844 1429 1867 1428 1867 2160 775 2160Z" fill="#fccf0c"/>
<path d="M775 1712 798 1712 822 1711 845 1711 868 1710 891 1709 914 1709 938 1708 961 1706 984 1704 1007 1701 1031 1689 1054 1678 1077 1662 1100 1639 1124 1615 1147 1590 1170 1563 1193 1537 1217 1515 1240 1494 1263 1475 1286 1473 1309 1472 1333 1470 1356 1468 1379 1467 1402 1465 1426 1463 1449 1462 1472 1460 1495 1458 1519 1457 1542 1455 1565 1454 1588 1452 1611 1450 1635 1449 1658 1447 1681 1445 1704 1444 1728 1442 1751 1440 1774 1439 1797 1437 1821 1436 1844 1434 1867 1432 1867 2160 775 2160Z" fill="#ffdb06"/>
<path d="M775 1721 798 1721 822 1720 845 1720 868 1719 891 1719 914 1718 938 1718 961 1716 984 1713 1007 1710 1031 1699 1054 1688 1077 1673 1100 1651 1124 1629 1147 1605 1170 1580 1193 1554 1217 1534 1240 1514 1263 1496 1286 1495 1309 1493 1333 1492 1356 1490 1379 1489 1402 1487 1426 1486 1449 1485 1472 1484 1495 1483 1519 1483 1542 1483 1565 1484 1588 1485 1611 1485 1635 1484 1658 1482 1681 1481 1704 1480 1728 1478 1751 1477 1774 1476 1797 1474 1821 1473 1844 1472 1867 1470 1867 2160 775 2160Z" fill="#ffe703"/>
<path d="M775 1730 798 1730 822 1729 845 1729 868 1728 891 1728 914 1727 938 1727 961 1725 984 1723 1007 1720 1031 1710 1054 1699 1077 1685 1100 1664 1124 1643 1147 1620 1170 1596 1193 1572 1217 1553 1240 1534 1263 1517 1286 1516 1309 1515 1333 1513 1356 1512 1379 1511 1402 1509 1426 1509 1449 1509 1472 1509 1495 1509 1519 1510 1542 1512 1565 1514 1588 1518 1611 1520 1635 1519 1658 1518 1681 1517 1704 1516 1728 1515 1751 1514 1774 1512 1797 1511 1821 1510 1844 1509 1867 1508 1867 2160 775 2160Z" fill="#ffed00"/>
<path d="M775 1855 798 1855 822 1855 845 1855 868 1855 891 1855 914 1855 938 1855 961 1855 984 1854 1007 1854 1031 1852 1054 1850 1077 1846 1100 1841 1124 1837 1147 1832 1170 1827 1193 1821 1217 1819 1240 1817 1263 1815 1286 1815 1309 1816 1333 1817 1356 1818 1379 1818 1402 1820 1426 1830 1449 1839 1472 1849 1495 1859 1519 1882 1542 1908 1565 1938 1588 1982 1611 2006 1635 2009 1658 2012 1681 2016 1704 2019 1728 2022 1751 2025 1774 2028 1797 2031 1821 2034 1844 2037 1867 2040 1867 2160 775 2160Z" fill="#fcf006"/>
<path d="M775 1862 798 1862 822 1862 845 1862 868 1862 891 1862 914 1862 938 1862 961 1861 984 1861 1007 1861 1031 1860 1054 1858 1077 1855 1100 1851 1124 1847 1147 1843 1170 1839 1193 1835 1217 1833 1240 1832 1263 1831 1286 1832 1309 1832 1333 1833 1356 1834 1379 1835 1402 1837 1426 1847 1449 1857 1472 1867 1495 1878 1519 1902 1542 1929 1565 1961 1588 2007 1611 2032 1635 2036 1658 2039 1681 2042 1704 2046 1728 2049 1751 2052 1774 2055 1797 2059 1821 2062 1844 2065 1867 2069 1867 2160 775 2160Z" fill="#f9f009"/>
<path d="M775 1869 798 1869 822 1869 845 1869 868 1869 891 1869 914 1869 938 1869 961 1868 984 1868 1007 1868 1031 1867 1054 1866 1077 1863 1100 1860 1124 1857 1147 1854 1170 1851 1193 1848 1217 1847 1240 1847 1263 1847 1286 1848 1309 1849 1333 1850 1356 1850 1379 1851 1402 1853 1426 1864 1449 1875 1472 1886 1495 1896 1519 1922 1542 1950 1565 1983 1588 2032 1611 2058 1635 2062 1658 2065 1681 2069 1704 2072 1728 2076 1751 2079 1774 2083 1797 2087 1821 2090 1844 2094 1867 2097 1867 2160 775 2160Z" fill="#f6ed0c"/>
<path d="M775 1876 798 1876 822 1875 845 1875 868 1875 891 1875 914 1875 938 1875 961 1875 984 1875 1007 1875 1031 1875 1054 1874 1077 1872 1100 1870 1124 1868 1147 1866 1170 1864 1193 1862 1217 1861 1240 1862 1263 1863 1286 1864 1309 1865 1333 1866 1356 1867 1379 1868 1402 1870 1426 1881 1449 1893 1472 1904 1495 1915 1519 1941 1542 1972 1565 2006 1588 2057 1611 2085 1635 2088 1658 2092 1681 2096 1704 2099 1728 2103 1751 2107 1774 2111 1797 2114 1821 2118 1844 2122 1867 2126 1867 2160 775 2160Z" fill="#f3ed0c"/>
<path d="M775 1882 798 1882 822 1882 845 1882 868 1882 891 1882 914 1882 938 1882 961 1882 984 1882 1007 1882 1031 1882 1054 1882 1077 1880 1100 1879 1124 1877 1147 1876 1170 1874 1193 1873 1217 1873 1240 1874 1263 1876 1286 1877 1309 1878 1333 1879 1356 1880 1379 1882 1402 1884 1426 1896 1449 1908 1472 1920 1495 1932 1519 1960 1542 1992 1565 2026 1588 2077 1611 2104 1635 2108 1658 2112 1681 2116 1704 2120 1728 2123 1751 2127 1774 2131 1797 2135 1821 2139 1844 2142 1867 2146 1867 2160 775 2160Z" fill="#f0ed0f"/>
<path d="M775 1890 798 1890 822 1890 845 1890 868 1890 891 1890 914 1890 938 1890 961 1890 984 1890 1007 1890 1031 1890 1054 1889 1077 1888 1100 1886 1124 1885 1147 1883 1170 1882 1193 1880 1217 1881 1240 1882 1263 1883 1286 1884 1309 1885 1333 1886 1356 1888 1379 1890 1402 1894 1426 1906 1449 1918 1472 1932 1495 1947 1519 1977 1542 2010 1565 2041 1588 2087 1611 2112 1635 2115 1658 2119 1681 2123 1704 2126 1728 2130 1751 2133 1774 2137 1797 2141 1821 2144 1844 2148 1867 2152 1867 2160 775 2160Z" fill="#edea12"/>
<path d="M775 1897 798 1897 822 1897 845 1897 868 1897 891 1897 914 1897 938 1897 961 1897 984 1897 1007 1897 1031 1897 1054 1897 1077 1895 1100 1894 1124 1892 1147 1891 1170 1889 1193 1888 1217 1888 1240 1889 1263 1890 1286 1891 1309 1892 1333 1893 1356 1895 1379 1898 1402 1903 1426 1915 1449 1929 1472 1943 1495 1961 1519 1994 1542 2029 1565 2057 1588 2097 1611 2119 1635 2123 1658 2126 1681 2130 1704 2133 1728 2136 1751 2140 1774 2143 1797 2147 1821 2150 1844 2153 1867 2157 1867 2160 775 2160Z" fill="#eaea15"/>
<path d="M775 1905 798 1905 822 1905 845 1905 868 1905 891 1905 914 1905 938 1905 961 1905 984 1905 1007 1905 1031 1905 1054 1904 1077 1903 1100 1901 1124 1900 1147 1898 1170 1897 1193 1895 1217 1896 1240 1896 1263 1897 1286 1898 1309 1899 1333 1900 1356 1903 1379 1906 1402 1912 1426 1925 1449 1939 1472 1955 1495 1975 1519 2010 1542 2047 1565 2072 1588 2107 1611 2127 1635 2130 1658 2133 1681 2136 1704 2140 1728 2143 1751 2146 1774 2149 1797 2152 1821 2156 1844 2159 1867 2162 1867 2160 775 2160Z" fill="#e7ea18"/>
<path d="M775 1912 798 1912 822 1912 845 1912 868 1912 891 1912 914 1912 938 1912 961 1912 984 1912 1007 1912 1031 1912 1054 1912 1077 1910 1100 1909 1124 1907 1147 1905 1170 1904 1193 1903 1217 1903 1240 1903 1263 1904 1286 1905 1309 1906 1333 1907 1356 1910 1379 1915 1402 1921 1426 1934 1449 1949 1472 1967 1495 1989 1519 2027 1542 2066 1565 2087 1588 2117 1611 2134 1635 2137 1658 2140 1681 2143 1704 2146 1728 2149 1751 2152 1774 2155 1797 2158 1821 2161 1844 2164 1867 2167 1867 2160 775 2160Z" fill="#e4e718"/>
<path d="M775 1920 798 1920 822 1920 845 1920 868 1920 891 1920 914 1920 938 1920 961 1920 984 1920 1007 1920 1031 1920 1054 1919 1077 1918 1100 1916 1124 1914 1147 1913 1170 1912 1193 1911 1217 1910 1240 1911 1263 1911 1286 1912 1309 1913 1333 1914 1356 1918 1379 1923 1402 1931 1426 1944 1449 1960 1472 1978 1495 2003 1519 2044 1542 2084 1565 2102 1588 2127 1611 2142 1635 2144 1658 2147 1681 2150 1704 2153 1728 2156 1751 2159 1774 2161 1797 2164 1821 2167 1844 2170 1867 2173 1867 2160 775 2160Z" fill="#c9e121"/>
<path d="M775 1927 798 1927 822 1927 845 1927 868 1927 891 1927 914 1927 938 1927 961 1927 984 1927 1007 1927 1031 1927 1054 1927 1077 1925 1100 1923 1124 1922 1147 1920 1170 1919 1193 1918 1217 1918 1240 1918 1263 1918 1286 1919 1309 1920 1333 1921 1356 1925 1379 1931 1402 1940 1426 1954 1449 1970 1472 1990 1495 2017 1519 2060 1542 2103 1565 2117 1588 2137 1611 2149 1635 2152 1658 2154 1681 2157 1704 2160 1728 2162 1751 2165 1774 2167 1797 2170 1821 2173 1844 2175 1867 2178 1867 2160 775 2160Z" fill="#aed82a"/>
<path d="M775 1935 798 1935 822 1935 845 1935 868 1935 891 1935 914 1935 938 1935 961 1935 984 1935 1007 1935 1031 1935 1054 1934 1077 1932 1100 1931 1124 1929 1147 1928 1170 1926 1193 1926 1217 1925 1240 1925 1263 1925 1286 1926 1309 1927 1333 1928 1356 1932 1379 1939 1402 1949 1426 1963 1449 1981 1472 2002 1495 2032 1519 2077 1542 2121 1565 2132 1588 2147 1611 2156 1635 2159 1658 2161 1681 2164 1704 2166 1728 2169 1751 2171 1774 2173 1797 2176 1821 2178 1844 2181 1867 2183 1867 2160 775 2160Z" fill="#93cf33"/>
<path d="M775 1942 798 1942 822 1942 845 1942 868 1942 891 1942 914 1942 938 1942 961 1942 984 1942 1007 1942 1031 1942 1054 1942 1077 1940 1100 1938 1124 1937 1147 1935 1170 1934 1193 1933 1217 1933 1240 1932 1263 1932 1286 1933 1309 1934 1333 1935 1356 1940 1379 1948 1402 1959 1426 1973 1449 1991 1472 2014 1495 2046 1519 2094 1542 2140 1565 2147 1588 2158 1611 2164 1635 2166 1658 2168 1681 2171 1704 2173 1728 2175 1751 2177 1774 2180 1797 2182 1821 2184 1844 2186 1867 2188 1867 2160 775 2160Z" fill="#78c639"/>
<path d="M775 1950 798 1950 822 1950 845 1950 868 1950 891 1950 914 1950 938 1950 961 1950 984 1950 1007 1950 1031 1950 1054 1949 1077 1947 1100 1946 1124 1944 1147 1943 1170 1941 1193 1941 1217 1940 1240 1940 1263 1939 1286 1940 1309 1941 1333 1942 1356 1947 1379 1956 1402 1968 1426 1982 1449 2001 1472 2025 1495 2060 1519 2111 1542 2158 1565 2162 1588 2168 1611 2171 1635 2173 1658 2175 1681 2177 1704 2179 1728 2182 1751 2184 1774 2186 1797 2188 1821 2190 1844 2192 1867 2194 1867 2160 775 2160Z" fill="#54bd42"/>
<path d="M775 1956 798 1956 822 1956 845 1956 868 1956 891 1956 914 1956 938 1956 961 1956 984 1956 1007 1956 1031 1956 1054 1955 1077 1954 1100 1952 1124 1950 1147 1949 1170 1947 1193 1947 1217 1946 1240 1946 1263 1945 1286 1946 1309 1947 1333 1947 1356 1954 1379 1963 1402 1975 1426 1990 1449 2010 1472 2034 1495 2071 1519 2123 1542 2172 1565 2174 1588 2176 1611 2178 1635 2179 1658 2181 1681 2183 1704 2185 1728 2187 1751 2189 1774 2191 1797 2193 1821 2195 1844 2197 1867 2199 1867 2160 775 2160Z" fill="#30b448"/>
<path d="M775 1960 798 1960 822 1960 845 1960 868 1960 891 1960 914 1960 938 1960 961 1960 984 1960 1007 1960 1031 1960 1054 1959 1077 1957 1100 1956 1124 1954 1147 1952 1170 1951 1193 1951 1217 1950 1240 1949 1263 1949 1286 1950 1309 1950 1333 1951 1356 1957 1379 1966 1402 1979 1426 1994 1449 2013 1472 2038 1495 2074 1519 2127 1542 2176 1565 2177 1588 2179 1611 2181 1635 2183 1658 2185 1681 2187 1704 2189 1728 2191 1751 2193 1774 2195 1797 2197 1821 2198 1844 2200 1867 2202 1867 2160 775 2160Z" fill="#0ca84e"/>
<path d="M775 1964 798 1964 822 1964 845 1964 868 1964 891 1964 914 1964 938 1964 961 1964 984 1964 1007 1964 1031 1964 1054 1963 1077 1961 1100 1960 1124 1958 1147 1956 1170 1955 1193 1954 1217 1954 1240 1953 1263 1953 1286 1953 1309 1954 1333 1955 1356 1961 1379 1970 1402 1983 1426 1997 1449 2017 1472 2042 1495 2078 1519 2130 1542 2179 1565 2181 1588 2183 1611 2185 1635 2187 1658 2189 1681 2191 1704 2193 1728 2195 1751 2196 1774 2198 1797 2200 1821 2202 1844 2204 1867 2206 1867 2160 775 2160Z" fill="#00a551"/>
<circle cx="1857" cy="1775" r="145" fill="#ffed00"/>
<circle cx="1857" cy="1775" r="138" fill="#ffde06"/>
<circle cx="1857" cy="1775" r="132" fill="#fccf0c"/>
<circle cx="1857" cy="1775" r="126" fill="#fcc012"/>
<circle cx="1857" cy="1775" r="119" fill="#fcb118"/>
<circle cx="1857" cy="1775" r="113" fill="#f9a21e"/>
<circle cx="1857" cy="1775" r="106" fill="#f98d1e"/>
<circle cx="1857" cy="1775" r="100" fill="#f67221"/>
<circle cx="1857" cy="1775" r="94" fill="#f35a21"/>
<circle cx="1857" cy="1775" r="87" fill="#f04224"/>
<circle cx="1857" cy="1775" r="81" fill="#ed2724"/>
<circle cx="1857" cy="1775" r="74" fill="#ed2424"/>
<circle cx="1857" cy="1775" r="68" fill="#ed2124"/>
<circle cx="1857" cy="1775" r="62" fill="#ed1e24"/>
<circle cx="1857" cy="1775" r="55" fill="#ed1b24"/>
<circle cx="1857" cy="1775" r="49" fill="#ed1b24"/>
<circle cx="1857" cy="1775" r="42" fill="#ed1b24"/>
<circle cx="1857" cy="1775" r="36" fill="#ed1b24"/>
<circle cx="1857" cy="1775" r="29" fill="#ed1b24"/>
<circle cx="1857" cy="1775" r="23" fill="#ed1b24"/>
<circle cx="1857" cy="1775" r="17" fill="#ed1b24"/>
<circle cx="1857" cy="1775" r="10" fill="#ed1b24"/>
<circle cx="1857" cy="1775" r="4" fill="#ed1b24"/>
</g></g>
<g clip-path="url(#cpS2)" fill="none" stroke-linejoin="round">
<path d="M1108 1986 1121 1974 1134 1961 1146 1946M1144 2023 1157 2011 1170 1998 1182 1984 1195 1969 1208 1955 1220 1943M1180 2061 1193 2049 1205 2036 1218 2022 1231 2007 1244 1993 1256 1981 1269 1969 1282 1957 1294 1945M1216 2083 1229 2072 1241 2060 1254 2047 1267 2033 1279 2019 1292 2007 1305 1995 1318 1983 1330 1971 1343 1960 1356 1949M1252 2102 1264 2092 1277 2081 1290 2068 1303 2055 1315 2042 1328 2030 1341 2018 1353 2006 1366 1994 1379 1983 1391 1971M1288 2116 1300 2107 1313 2097 1326 2085 1338 2073 1351 2061 1364 2050 1376 2038 1389 2026 1402 2014 1415 2002 1427 1989M1324 2127 1336 2119 1349 2110 1362 2099 1374 2087 1387 2076 1400 2065 1412 2053 1425 2041 1438 2029 1450 2017 1463 2004M1359 2134 1372 2127 1385 2119 1397 2109 1410 2098 1423 2087 1435 2077 1448 2065 1461 2053 1474 2041 1486 2028M1395 2139 1408 2133 1421 2125 1433 2116 1446 2106 1459 2097 1471 2086 1484 2075 1497 2063M1431 2140 1444 2135 1457 2129 1469 2120 1482 2111 1495 2102 1507 2092M1467 2139 1480 2135 1492 2130 1505 2122 1518 2114M1503 2134 1516 2131 1528 2126M1090 1966 1108 1986 1126 2005 1144 2023 1162 2046 1180 2061 1198 2073 1216 2083 1234 2093 1252 2102 1270 2109 1288 2116 1306 2122 1324 2127 1341 2131 1359 2134 1377 2137 1395 2139 1413 2140 1431 2140 1449 2140 1467 2139 1485 2137 1503 2134M1134 1961 1152 1979 1170 1998 1187 2021 1205 2036 1223 2049 1241 2060 1259 2071 1277 2081 1295 2089 1313 2097 1331 2104 1349 2110 1367 2115 1385 2119 1403 2122 1421 2125 1439 2128 1457 2129 1474 2129 1492 2130 1510 2129 1528 2126M1177 1950 1195 1969 1213 1991 1231 2007 1249 2021 1267 2033 1285 2044 1303 2055 1320 2064 1338 2073 1356 2081 1374 2087 1392 2093 1410 2098 1428 2102 1446 2106 1464 2109 1482 2111 1500 2113 1518 2114M1238 1965 1256 1981 1274 1995 1292 2007 1310 2019 1328 2030 1346 2040 1364 2050 1382 2058 1400 2065 1418 2071 1435 2077 1453 2082 1471 2086 1489 2090 1507 2092M1282 1957 1300 1970 1318 1983 1335 1995 1353 2006 1371 2016 1389 2026 1407 2034 1425 2041 1443 2048 1461 2053 1479 2059 1497 2063M1343 1960 1361 1972 1379 1983 1397 1993 1415 2002 1432 2010 1450 2017 1468 2023" stroke="#004d22" stroke-opacity="0.14" stroke-width="3.4"/>
<path d="M1036 1897 1049 1884 1062 1870 1075 1855 1087 1840 1100 1825 1113 1814 1126 1803M1072 1947 1085 1934 1098 1920 1111 1906 1123 1890 1136 1876 1149 1864 1161 1853 1174 1842 1187 1833 1200 1825 1212 1818 1225 1811 1238 1805 1251 1802 1263 1800 1276 1798 1289 1794 1302 1790 1314 1785 1327 1779 1340 1771 1353 1762M1146 1946 1159 1931 1172 1916 1185 1905 1197 1893 1210 1882 1223 1872 1236 1864 1248 1855 1261 1847 1274 1840 1287 1835 1299 1831 1312 1827 1325 1823 1337 1817 1350 1810 1363 1802 1376 1793 1388 1783 1401 1774 1414 1763M1220 1943 1233 1931 1246 1919 1259 1909 1271 1899 1284 1890 1297 1880 1310 1872 1322 1865 1335 1860 1348 1854 1360 1848 1373 1841 1386 1833 1399 1824 1411 1814 1424 1803 1437 1792 1450 1781M1294 1945 1307 1935 1320 1924 1333 1913 1345 1903 1358 1895 1371 1888 1383 1881 1396 1873 1409 1864 1422 1854 1434 1844 1447 1832 1460 1820 1473 1809 1485 1798M1356 1949 1368 1937 1381 1926 1394 1917 1407 1908 1419 1900 1432 1890 1445 1880 1457 1870 1470 1858 1483 1846 1496 1834 1508 1822 1521 1810M1391 1971 1404 1958 1417 1946 1430 1936 1442 1926 1455 1916 1468 1906 1480 1895 1493 1883 1506 1871 1519 1859 1531 1846 1544 1834M1427 1989 1440 1977 1453 1964 1465 1952 1478 1941 1491 1930 1503 1919 1516 1907 1529 1894 1542 1882 1554 1868 1567 1855M1463 2004 1476 1990 1488 1977 1501 1964 1514 1952 1527 1940 1539 1928 1552 1915 1565 1901 1577 1888M1486 2028 1499 2015 1512 2001 1524 1986 1537 1973 1550 1959 1562 1946 1575 1933 1588 1919 1600 1904M1497 2063 1509 2051 1522 2038 1535 2024 1547 2009 1560 1994 1573 1979 1585 1965 1598 1950 1611 1936 1623 1921M1507 2092 1520 2081 1532 2070 1545 2057 1558 2044 1570 2029 1583 2014 1596 1998 1608 1982 1621 1967 1634 1951 1646 1936 1659 1920M1518 2114 1530 2106 1543 2096 1556 2086 1568 2074 1581 2061 1594 2047 1606 2032 1619 2016 1632 1999 1644 1982 1657 1966 1670 1949 1682 1933M1528 2126 1541 2119 1554 2112 1566 2105 1579 2096 1592 2085 1604 2074 1617 2061 1629 2047 1642 2031 1655 2015 1667 1997 1680 1979 1693 1961 1705 1944 1718 1926M1018 1864 1036 1897 1054 1924 1072 1947 1090 1966M1044 1838 1062 1870 1080 1897 1098 1920 1116 1940 1134 1961M1087 1840 1105 1867 1123 1890 1141 1910 1159 1931 1177 1950M1518 2114 1536 2114 1554 2112M1113 1814 1131 1841 1149 1864 1167 1884 1185 1905 1203 1924 1220 1943 1238 1965M1507 2092 1525 2094 1543 2096 1561 2097 1579 2096M1156 1820 1174 1842 1192 1862 1210 1882 1228 1901 1246 1919 1264 1941 1282 1957M1497 2063 1515 2067 1532 2070 1550 2072 1568 2074 1586 2075 1604 2074M1182 1804 1200 1825 1218 1844 1236 1864 1253 1882 1271 1899 1289 1920 1307 1935 1325 1948 1343 1960M1468 2023 1486 2028 1504 2033 1522 2038 1540 2041 1558 2044 1576 2046 1594 2047 1612 2048 1629 2047M1207 1791 1225 1811 1243 1829 1261 1847 1279 1864 1297 1880 1315 1899 1333 1913 1350 1926 1368 1937 1386 1948 1404 1958 1422 1968 1440 1977 1458 1984 1476 1990 1494 1996 1512 2001 1529 2005 1547 2009 1565 2012 1583 2014 1601 2016 1619 2016 1637 2016 1655 2015M1233 1783 1251 1802 1269 1818 1287 1835 1304 1850 1322 1865 1340 1882 1358 1895 1376 1906 1394 1917 1412 1927 1430 1936 1447 1945 1465 1952 1483 1959 1501 1964 1519 1969 1537 1973 1555 1976 1573 1979 1591 1981 1608 1982 1626 1983 1644 1982 1662 1981 1680 1979M1258 1781 1276 1798 1294 1812 1312 1827 1330 1841 1348 1854 1366 1869 1383 1881 1401 1891 1419 1900 1437 1908 1455 1916 1473 1924 1491 1930 1509 1936 1527 1940 1544 1943 1562 1946 1580 1949 1598 1950 1616 1951 1634 1951 1652 1951 1670 1949 1687 1947 1705 1944M1284 1775 1302 1790 1320 1804 1337 1817 1355 1829 1373 1841 1391 1854 1409 1864 1427 1872 1445 1880 1463 1888 1480 1895 1498 1902 1516 1907 1534 1911 1552 1915 1570 1917 1588 1919 1605 1920M1327 1779 1345 1791 1363 1802 1381 1813 1399 1824 1417 1835 1434 1844 1452 1851 1470 1858 1488 1865 1506 1871 1524 1877 1542 1882 1559 1885 1577 1888M1371 1773 1388 1783 1406 1793 1424 1803 1442 1813 1460 1820 1478 1827 1496 1834 1513 1840 1531 1846 1549 1851 1567 1855" stroke="#008c3c" stroke-opacity="0.85" stroke-width="3.8"/>
<path d="M1149 1580 1161 1581 1174 1579 1187 1577 1200 1574 1213 1570 1225 1565 1238 1561 1251 1556M1120 1613 1133 1620 1146 1625 1159 1630 1172 1633 1184 1634 1197 1633 1210 1630 1223 1626 1235 1621 1248 1616 1261 1611 1274 1605 1287 1599M965 1752 977 1740 990 1727 1003 1714 1016 1699 1028 1687 1041 1678 1054 1670 1067 1663 1080 1658 1092 1655 1105 1653 1118 1652 1131 1653 1143 1656 1156 1662 1169 1667 1182 1670 1195 1673 1207 1674 1220 1674 1233 1672 1246 1667 1258 1662 1271 1657 1284 1651 1297 1645 1309 1638 1322 1632M1000 1829 1013 1817 1026 1803 1039 1789 1052 1774 1064 1760 1077 1750 1090 1741 1103 1732 1115 1726 1128 1721 1141 1717 1154 1713 1166 1712 1179 1712 1192 1715 1205 1717 1217 1719 1230 1719 1243 1717 1256 1714 1269 1710 1281 1704 1294 1697 1307 1690 1320 1682 1332 1675 1345 1667 1358 1659M1126 1803 1138 1794 1151 1786 1164 1779 1177 1773 1189 1768 1202 1764 1215 1762 1228 1762 1240 1762 1253 1761 1266 1758 1279 1755 1291 1750 1304 1743 1317 1735 1330 1727 1343 1719 1355 1710 1368 1701 1381 1692 1394 1682M1353 1762 1365 1752 1378 1743 1391 1733 1404 1723 1416 1713 1429 1704M1414 1763 1427 1753 1439 1743 1452 1733 1465 1723M1450 1781 1462 1771 1475 1760 1488 1749 1500 1739M1485 1798 1498 1786 1511 1775 1523 1764 1536 1753M1521 1810 1534 1799 1546 1788 1559 1776 1572 1766M1544 1834 1557 1822 1569 1810 1582 1799 1595 1788 1607 1777M1567 1855 1580 1843 1592 1831 1605 1820 1618 1808 1630 1798 1643 1787M1577 1888 1590 1874 1603 1860 1615 1848 1628 1836 1641 1825 1653 1813 1666 1803 1679 1792M1600 1904 1613 1890 1626 1876 1638 1862 1651 1849 1664 1837 1676 1826 1689 1815 1702 1804 1714 1794M1623 1921 1636 1906 1649 1891 1661 1876 1674 1862 1687 1849 1699 1837 1712 1826 1725 1815 1737 1804M1659 1920 1672 1904 1684 1888 1697 1872 1710 1858 1722 1845 1735 1833 1748 1822M1682 1933 1695 1916 1707 1899 1720 1882 1733 1866 1745 1852 1758 1839M1718 1926 1731 1908 1743 1890 1756 1873 1768 1856M947 1722 965 1752 983 1791 1000 1829 1018 1864M990 1727 1008 1766 1026 1803 1044 1838M1016 1699 1034 1737 1052 1774 1069 1808 1087 1840M1041 1678 1059 1715 1077 1750 1095 1783 1113 1814M1067 1663 1085 1698 1103 1732 1121 1764 1138 1794 1156 1820M1092 1655 1110 1689 1128 1721 1146 1751 1164 1779 1182 1804M1118 1652 1136 1683 1154 1713 1172 1741 1189 1768 1207 1791M1126 1631 1143 1656 1161 1685 1179 1712 1197 1738 1215 1762 1233 1783M1133 1620 1151 1644 1169 1667 1187 1693 1205 1717 1223 1740 1240 1762 1258 1781M1141 1603 1159 1630 1177 1652 1195 1673 1212 1696 1230 1719 1248 1739 1266 1758 1284 1775M1605 1920 1623 1921 1641 1921 1659 1920 1677 1918 1695 1916 1713 1913 1731 1908M1149 1580 1166 1609 1184 1634 1202 1655 1220 1674 1238 1695 1256 1714 1274 1733 1291 1750 1309 1765 1327 1779M1577 1888 1595 1889 1613 1890 1631 1891 1649 1891 1667 1890 1684 1888 1702 1886 1720 1882 1738 1878 1756 1873M1174 1579 1192 1607 1210 1630 1228 1649 1246 1667 1263 1686 1281 1704 1299 1720 1317 1735 1335 1749 1353 1762 1371 1773M1567 1855 1585 1858 1603 1860 1620 1861 1638 1862 1656 1862 1674 1862 1692 1860 1710 1858 1728 1855 1745 1852 1763 1847M1182 1547 1200 1574 1218 1600 1235 1621 1253 1640 1271 1657 1289 1674 1307 1690 1325 1705 1343 1719 1360 1731 1378 1743 1396 1753 1414 1763 1432 1773 1450 1781 1467 1790 1485 1798 1503 1804 1521 1810 1539 1816 1557 1822 1574 1827 1592 1831 1610 1834 1628 1836 1646 1837 1664 1837 1682 1837 1699 1837 1717 1835 1735 1833 1753 1830M1208 1539 1225 1565 1243 1590 1261 1611 1279 1629 1297 1645 1315 1660 1332 1675 1350 1688 1368 1701 1386 1712 1404 1723 1422 1733 1439 1743 1457 1752 1475 1760 1493 1768 1511 1775 1529 1781 1546 1788 1564 1793 1582 1799 1600 1805 1618 1808 1636 1811 1653 1813 1671 1814 1689 1815 1707 1815 1725 1815 1743 1813M1233 1531 1251 1556 1269 1579 1287 1599 1304 1616 1322 1632 1340 1646 1358 1659 1376 1671 1394 1682 1411 1693 1429 1704 1447 1713 1465 1723 1483 1731 1500 1739 1518 1746 1536 1753 1554 1759 1572 1766 1590 1772 1607 1777 1625 1783 1643 1787 1661 1790 1679 1792 1697 1794 1714 1794 1732 1794" stroke="#3d3000" stroke-opacity="0.66" stroke-width="3.8"/>
<path d="M1113 1519 1126 1522 1138 1521 1151 1520 1164 1518 1177 1515 1190 1511 1202 1507 1215 1503M1085 1549 1097 1558 1110 1566 1123 1572 1136 1577 1149 1580M929 1691 941 1679 954 1666 967 1652 980 1638 993 1626 1005 1617 1018 1609 1031 1603 1044 1600 1057 1598 1069 1597 1082 1597 1095 1600 1108 1605 1120 1613M1737 1804 1750 1794M1748 1822 1760 1811 1773 1800 1786 1791M1758 1839 1771 1826 1783 1815 1796 1804 1809 1794 1821 1785M1768 1856 1781 1842 1794 1828 1806 1816 1819 1805M911 1654 929 1691 947 1722M936 1629 954 1666 972 1697 990 1727M980 1638 998 1669 1016 1699M1005 1617 1023 1648 1041 1678M1031 1603 1049 1633 1067 1663M1057 1598 1074 1627 1092 1655M1064 1565 1082 1597 1100 1625 1118 1652M1090 1575 1108 1605 1126 1631M1097 1558 1115 1591 1133 1620M1105 1541 1123 1572 1141 1603M1113 1519 1131 1551 1149 1580M1138 1521 1156 1552 1174 1579M1763 1847 1781 1842M1146 1487 1164 1518 1182 1547M1753 1830 1771 1826 1789 1822 1806 1816M1172 1481 1190 1511 1208 1539M1743 1813 1760 1811 1778 1808 1796 1804 1814 1800M1180 1447 1197 1474 1215 1503 1233 1531M1732 1794 1750 1794 1768 1793 1786 1791 1804 1788 1821 1785" stroke="#3a0a03" stroke-opacity="0.66" stroke-width="3.8"/>
<path d="M785 1337 798 1325 811 1313 824 1300 836 1286 849 1275 862 1269 875 1264 888 1262 900 1263 913 1267 926 1272 939 1279 952 1290 965 1303 977 1320 990 1335 1003 1349 1016 1362 1029 1372 1041 1380 1054 1386 1067 1388 1080 1389 1093 1389 1106 1388 1118 1386 1131 1384 1144 1381M821 1431 834 1419 847 1407 859 1394 872 1381 885 1369 898 1363 911 1358 923 1355 936 1355 949 1358 962 1362 975 1367 988 1375 1000 1387 1013 1402 1026 1415 1039 1427 1052 1438 1064 1447 1077 1453 1090 1457 1103 1458 1116 1458 1128 1457 1141 1455 1154 1453 1167 1450 1180 1447M857 1524 870 1512 882 1499 895 1486 908 1472 921 1461 934 1453 946 1447 959 1443 972 1442 985 1444 998 1446 1010 1450 1023 1456 1036 1466 1049 1478 1062 1489 1074 1499 1087 1508 1100 1514 1113 1519M893 1609 906 1597 918 1585 931 1571 944 1557 957 1545 970 1537 982 1531 995 1526 1008 1524 1021 1524 1033 1524 1046 1526 1059 1531 1072 1539 1085 1549M1819 1805 1832 1794 1844 1784 1857 1775" stroke="#4a0008" stroke-opacity="0.18" stroke-width="4" filter="url(#soft3)"/>
<path d="M785 1337 803 1385 821 1431 839 1477 857 1524 875 1568 893 1609 911 1654M811 1313 829 1361 847 1407 865 1453 882 1499 900 1544 918 1585 936 1629M836 1286 854 1334 872 1381 890 1426 908 1472 926 1516 944 1557 962 1601 980 1638M862 1269 880 1316 898 1363 916 1408 934 1453 952 1497 970 1537 987 1581 1005 1617M888 1262 906 1309 923 1355 941 1399 959 1443 977 1486 995 1526 1013 1568 1031 1603M913 1267 931 1313 949 1358 967 1400 985 1444 1003 1485 1021 1524 1039 1564 1057 1598M939 1279 957 1323 975 1367 993 1408 1010 1450 1028 1489 1046 1526 1064 1565M965 1303 982 1345 1000 1387 1018 1426 1036 1466 1054 1503 1072 1539 1090 1575M990 1335 1008 1375 1026 1415 1044 1451 1062 1489 1080 1525 1097 1558M1016 1362 1034 1399 1052 1438 1069 1472 1087 1508 1105 1541M1041 1380 1059 1416 1077 1453 1095 1485 1113 1519M1067 1388 1085 1422 1103 1458 1121 1489 1138 1521M1093 1389 1111 1422 1128 1457 1146 1487M1118 1386 1136 1418 1154 1453 1172 1481M1814 1800 1832 1794M1144 1381 1162 1412 1180 1447M1821 1785 1839 1780 1857 1775" stroke="#4a0008" stroke-opacity="0.55" stroke-width="7" filter="url(#soft3)"/>
</g>
<path d="M785.1 1336.8 794.3 1328.1 803.5 1319.4 812.7 1310.7 821.9 1301.5 831.1 1291.5 840.3 1282.1 849.5 1274.6 858.7 1270.0 867.9 1266.5 877.1 1263.7 886.3 1262.1 895.5 1262.3 904.7 1264.5 913.9 1267.7 923.1 1271.1 932.3 1275.6 941.5 1281.2 950.7 1288.7 959.9 1298.0 969.2 1309.1 978.4 1321.0 987.6 1331.9 996.8 1342.5 1006.0 1352.0 1015.2 1361.0 1024.4 1369.0 1033.6 1375.4 1042.8 1381.0 1052.0 1385.2 1061.2 1387.2 1070.4 1388.5 1079.6 1389.3 1088.8 1389.3 1098.0 1388.7 1107.2 1387.6 1116.4 1386.3 1125.6 1385.0 1134.8 1383.3 1144.0 1381.3 1156.1 1401.3 1168.2 1425.8 1180.3 1447.6 1192.3 1466.0 1204.4 1485.2 1216.5 1505.0 1228.6 1524.0 1240.7 1541.4 1252.8 1558.2 1264.8 1574.1 1276.9 1588.6 1289.0 1601.6 1301.1 1613.3 1313.2 1624.1 1325.3 1634.2 1337.4 1643.8 1349.4 1652.9 1361.5 1661.4 1373.6 1669.6 1385.7 1677.4 1397.8 1685.1 1409.9 1692.5 1421.9 1699.6 1434.0 1706.4 1446.1 1712.9 1458.2 1719.2 1470.3 1725.2 1482.4 1730.9 1494.5 1736.3 1506.5 1741.3 1518.6 1746.1 1530.7 1750.8 1542.8 1755.3 1554.9 1759.7 1567.0 1763.9 1579.1 1768.0 1591.1 1772.0 1603.2 1776.1 1615.3 1780.1 1627.4 1783.7 1639.5 1786.5 1651.6 1788.6 1663.6 1790.6 1675.7 1792.1 1687.8 1793.1 1699.9 1793.6 1712.0 1794.0 1724.1 1794.3 1736.2 1794.5 1748.2 1794.4 1760.3 1793.7 1772.4 1792.5 1784.5 1791.1 1796.6 1789.6 1808.7 1787.5 1820.7 1785.0 1832.8 1782.1 1844.9 1778.8 1857.0 1775.0 1847.9 1781.4 1838.8 1788.3 1829.8 1795.6 1820.7 1803.3 1811.6 1811.3 1802.5 1819.7 1793.5 1828.5 1784.4 1838.0 1775.3 1848.1 1766.2 1859.3 1757.2 1871.4 1748.1 1883.7 1739.0 1896.2 1729.9 1909.1 1720.8 1921.8 1711.8 1934.5 1702.7 1947.2 1693.6 1959.8 1684.5 1972.5 1675.5 1985.2 1666.4 1998.1 1657.3 2011.0 1648.2 2023.5 1639.2 2035.0 1630.1 2046.0 1621.0 2056.2 1611.9 2065.9 1602.8 2075.0 1593.8 2083.3 1584.7 2091.0 1575.6 2098.1 1566.5 2104.5 1557.5 2110.1 1548.4 2115.3 1539.3 2120.3 1530.2 2125.3 1521.2 2129.3 1512.1 2132.1 1503.0 2134.0 1492.6 2136.1 1482.2 2137.9 1471.8 2139.1 1461.4 2139.5 1451.0 2139.8 1440.6 2140.1 1430.2 2140.2 1419.8 2140.3 1409.4 2140.1 1399.0 2139.4 1388.6 2138.2 1378.1 2136.9 1367.7 2135.4 1357.3 2133.9 1346.9 2132.1 1336.5 2130.1 1326.1 2127.7 1315.7 2125.2 1305.3 2122.3 1294.9 2118.9 1284.5 2115.2 1274.1 2111.1 1263.7 2106.9 1253.3 2102.4 1242.9 2097.5 1232.5 2092.3 1222.1 2086.8 1211.7 2080.8 1201.3 2074.7 1190.9 2068.3 1180.5 2061.2 1170.1 2053.1 1159.7 2043.5 1149.3 2029.8 1138.8 2017.3 1128.4 2007.1 1118.0 1997.1 1107.6 1985.9 1097.2 1974.2 1086.8 1962.7 1076.4 1951.7 1066.0 1939.8 1055.6 1926.2 1045.2 1911.1 1034.8 1894.4 1024.4 1875.7 1014.0 1856.1 1003.6 1835.7 993.2 1814.5 982.8 1792.1 972.4 1768.4 962.0 1747.2 951.6 1729.7 941.2 1713.2 930.8 1694.9 920.4 1674.5 910.0 1652.1 899.5 1626.5 889.1 1600.3 878.7 1576.7 868.3 1552.8 857.9 1526.6 847.5 1499.4 837.1 1472.7 826.7 1446.1 816.3 1419.4 805.9 1392.7 795.5 1365.2Z" fill="none" stroke="#111" stroke-opacity="0.42" stroke-width="3"/>
</g>
<g id="S1">
<clipPath id="cpS1"><path d="M392.8 1976.5 399.8 1956.0 406.7 1936.3 413.7 1917.4 420.6 1899.8 427.6 1883.8 434.5 1867.9 441.5 1850.4 448.4 1829.9 455.4 1807.0 462.3 1783.8 469.3 1762.3 476.2 1742.3 483.2 1723.1 490.2 1703.9 497.1 1684.4 504.1 1664.5 511.0 1644.9 518.0 1626.1 524.9 1608.4 531.9 1591.2 538.8 1574.9 545.8 1559.4 552.7 1544.5 559.7 1530.2 566.6 1517.2 573.6 1505.7 580.6 1495.2 587.5 1485.6 594.5 1477.1 601.4 1469.7 608.4 1462.9 615.3 1456.7 622.3 1451.1 629.2 1446.0 636.2 1441.3 643.1 1437.2 650.1 1433.7 657.0 1430.6 664.0 1428.0 672.9 1440.1 681.8 1458.9 690.7 1484.6 699.6 1511.7 708.5 1535.6 717.4 1558.3 726.2 1580.3 735.1 1601.9 744.0 1623.3 752.9 1644.6 761.8 1664.6 770.7 1682.6 779.6 1698.4 788.5 1713.0 797.4 1727.7 806.3 1743.6 815.2 1760.3 824.1 1777.6 833.0 1795.0 841.8 1812.6 850.7 1830.4 859.6 1848.3 868.5 1866.1 877.4 1883.9 886.3 1901.5 895.2 1919.0 904.1 1936.3 913.0 1952.6 921.9 1967.5 930.8 1981.6 939.7 1995.0 948.6 2008.1 957.4 2020.6 966.3 2031.8 975.2 2041.9 984.1 2051.3 993.0 2060.6 1001.9 2069.8 1010.8 2078.7 1019.7 2087.1 1028.6 2095.2 1037.5 2102.9 1046.4 2110.4 1055.3 2117.7 1064.2 2124.6 1073.1 2131.2 1081.9 2137.5 1090.8 2143.4 1099.7 2148.9 1108.6 2154.1 1117.5 2159.3 1126.4 2164.8 1135.3 2170.2 1144.2 2174.7 1153.1 2178.5 1162.0 2182.0 1170.9 2185.2 1179.8 2188.1 1188.7 2190.7 1197.5 2192.9 1206.4 2195.1 1215.3 2197.0 1224.2 2198.8 1233.1 2200.4 1242.0 2201.7 1250.9 2202.9 1259.8 2204.0 1268.7 2205.0 1277.6 2205.9 1286.5 2206.6 1295.4 2207.0 1304.3 2207.3 1313.1 2207.6 1322.0 2207.8 1330.9 2208.0 1339.8 2208.2 1348.7 2208.3 1357.6 2208.4 1366.5 2208.4 1357.1 2212.3 1347.8 2216.8 1338.4 2221.9 1329.1 2227.4 1319.7 2233.3 1310.3 2239.9 1301.0 2247.3 1291.6 2255.3 1282.2 2263.4 1272.9 2271.6 1263.5 2280.3 1254.2 2289.2 1244.8 2298.2 1235.4 2307.2 1226.1 2316.5 1216.7 2326.7 1207.3 2338.8 1198.0 2351.4 1188.6 2362.8 1179.3 2373.1 1169.9 2383.2 1160.5 2393.8 1151.2 2404.5 1141.8 2414.0 1132.4 2421.8 1123.1 2428.9 1113.7 2435.3 1104.4 2441.4 1095.0 2447.0 1084.8 2454.2 1074.6 2461.1 1064.5 2467.4 1054.3 2473.3 1044.1 2478.6 1033.9 2483.4 1023.8 2487.9 1013.6 2492.0 1003.4 2495.8 993.2 2499.2 983.1 2502.4 972.9 2505.5 962.7 2508.3 952.5 2510.6 942.3 2512.1 932.2 2512.9 922.0 2513.7 911.8 2514.2 901.6 2514.6 891.5 2514.8 881.3 2514.5 871.1 2513.4 860.9 2511.7 850.8 2509.6 840.6 2507.4 830.4 2504.8 820.2 2501.3 810.0 2497.1 799.9 2492.4 789.7 2487.4 779.5 2482.1 769.3 2476.0 759.2 2469.3 749.0 2462.2 738.8 2454.9 728.6 2447.2 718.5 2438.9 708.3 2430.2 698.1 2421.2 687.9 2412.0 677.8 2402.5 667.6 2392.6 657.4 2382.4 647.2 2371.9 637.0 2361.3 626.9 2350.6 616.7 2339.6 606.5 2328.4 596.3 2317.0 586.2 2305.5 576.0 2293.7 565.8 2281.8 555.6 2269.6 545.5 2257.2 535.3 2244.6 525.1 2231.9 514.9 2218.8 504.7 2205.6 494.6 2192.2 484.4 2178.7 474.2 2165.2 464.0 2151.6 453.9 2137.7 443.7 2123.1 433.5 2107.9 423.3 2092.0 413.2 2073.6 403.0 2055.1Z"/></clipPath>
<g clip-path="url(#cpS1)"><g filter="url(#soft2)">
<path d="M393 1976 400 1956 407 1936 414 1917 421 1900 428 1884 435 1868 441 1850 448 1830 455 1807 462 1784 469 1762 476 1742 483 1723 490 1704 497 1684 504 1665 511 1645 518 1626 525 1608 532 1591 539 1575 546 1559 553 1544 560 1530 567 1517 574 1506 581 1495 588 1486 594 1477 601 1470 608 1463 615 1457 622 1451 629 1446 636 1441 643 1437 650 1434 657 1431 664 1428 673 1440 682 1459 691 1485 700 1512 708 1536 717 1558 726 1580 735 1602 744 1623 753 1645 762 1665 771 1683 780 1698 788 1713 797 1728 806 1744 815 1760 824 1778 833 1795 842 1813 851 1830 860 1848 869 1866 877 1884 886 1901 895 1919 904 1936 913 1953 922 1968 931 1982 940 1995 949 2008 957 2021 966 2032 975 2042 984 2051 993 2061 1002 2070 1011 2079 1020 2087 1029 2095 1037 2103 1046 2110 1055 2118 1064 2125 1073 2131 1082 2137 1091 2143 1100 2149 1109 2154 1118 2159 1126 2165 1135 2170 1144 2175 1153 2178 1162 2182 1171 2185 1180 2188 1189 2191 1198 2193 1206 2195 1215 2197 1224 2199 1233 2200 1242 2202 1251 2203 1260 2204 1269 2205 1278 2206 1286 2207 1295 2207 1304 2207 1313 2208 1322 2208 1331 2208 1340 2208 1349 2208 1358 2208 1366 2208 1357 2212 1348 2217 1338 2222 1329 2227 1320 2233 1310 2240 1301 2247 1292 2255 1282 2263 1273 2272 1264 2280 1254 2289 1245 2298 1235 2307 1226 2316 1217 2327 1207 2339 1198 2351 1189 2363 1179 2373 1170 2383 1161 2394 1151 2405 1142 2414 1132 2422 1123 2429 1114 2435 1104 2441 1095 2447 1085 2454 1075 2461 1064 2467 1054 2473 1044 2479 1034 2483 1024 2488 1014 2492 1003 2496 993 2499 983 2502 973 2505 963 2508 953 2511 942 2512 932 2513 922 2514 912 2514 902 2515 891 2515 881 2514 871 2513 861 2512 851 2510 841 2507 830 2505 820 2501 810 2497 800 2492 790 2487 780 2482 769 2476 759 2469 749 2462 739 2455 729 2447 718 2439 708 2430 698 2421 688 2412 678 2402 668 2393 657 2382 647 2372 637 2361 627 2351 617 2340 607 2328 596 2317 586 2305 576 2294 566 2282 556 2270 545 2257 535 2245 525 2232 515 2219 505 2206 495 2192 484 2179 474 2165 464 2152 454 2138 444 2123 434 2108 423 2092 413 2074 403 2055Z" fill="#8d0f1b" stroke="#8d0f1b" stroke-width="4"/>
<path d="M383 1495 404 1493 425 1492 446 1490 467 1489 489 1487 510 1486 531 1480 552 1469 573 1458 594 1448 615 1442 637 1439 658 1435 679 1432 700 1428 721 1425 742 1425 763 1424 785 1424 806 1424 827 1423 848 1423 869 1423 890 1422 911 1422 933 1422 954 1422 975 1421 996 1421 1017 1421 1038 1420 1059 1420 1081 1420 1102 1419 1123 1419 1144 1419 1165 1418 1186 1418 1207 1418 1229 1418 1250 1417 1271 1417 1292 1417 1313 1416 1334 1416 1355 1416 1376 1415 1376 2535 383 2535Z" fill="#a2121e"/>
<path d="M383 1504 404 1502 425 1501 446 1499 467 1498 489 1496 510 1494 531 1488 552 1478 573 1467 594 1457 615 1451 637 1448 658 1444 679 1441 700 1437 721 1434 742 1433 763 1433 785 1433 806 1432 827 1432 848 1432 869 1432 890 1431 911 1431 933 1431 954 1430 975 1430 996 1430 1017 1429 1038 1429 1059 1429 1081 1428 1102 1428 1123 1428 1144 1428 1165 1427 1186 1427 1207 1427 1229 1426 1250 1426 1271 1426 1292 1425 1313 1425 1334 1425 1355 1424 1376 1424 1376 2535 383 2535Z" fill="#a8121e"/>
<path d="M383 1512 404 1511 425 1509 446 1508 467 1506 489 1505 510 1503 531 1497 552 1487 573 1476 594 1465 615 1460 637 1456 658 1453 679 1449 700 1446 721 1442 742 1442 763 1442 785 1442 806 1441 827 1441 848 1441 869 1440 890 1440 911 1440 933 1439 954 1439 975 1439 996 1438 1017 1438 1038 1438 1059 1438 1081 1437 1102 1437 1123 1437 1144 1436 1165 1436 1186 1436 1207 1435 1229 1435 1250 1435 1271 1434 1292 1434 1313 1434 1334 1433 1355 1433 1376 1433 1376 2535 383 2535Z" fill="#ab151e"/>
<path d="M383 1521 404 1520 425 1518 446 1517 467 1515 489 1513 510 1512 531 1506 552 1495 573 1485 594 1474 615 1469 637 1465 658 1462 679 1458 700 1455 721 1451 742 1451 763 1451 785 1450 806 1450 827 1450 848 1449 869 1449 890 1449 911 1448 933 1448 954 1448 975 1448 996 1447 1017 1447 1038 1447 1059 1446 1081 1446 1102 1446 1123 1445 1144 1445 1165 1445 1186 1444 1207 1444 1229 1444 1250 1443 1271 1443 1292 1443 1313 1443 1334 1442 1355 1442 1376 1442 1376 2535 383 2535Z" fill="#b11521"/>
<path d="M383 1530 404 1528 425 1527 446 1525 467 1524 489 1522 510 1521 531 1515 552 1504 573 1493 594 1483 615 1477 637 1474 658 1470 679 1467 700 1463 721 1460 742 1460 763 1459 785 1459 806 1459 827 1458 848 1458 869 1458 890 1457 911 1457 933 1457 954 1457 975 1456 996 1456 1017 1456 1038 1455 1059 1455 1081 1455 1102 1454 1123 1454 1144 1454 1165 1453 1186 1453 1207 1453 1229 1453 1250 1452 1271 1452 1292 1452 1313 1451 1334 1451 1355 1451 1376 1450 1376 2535 383 2535Z" fill="#b71521"/>
<path d="M383 1539 404 1537 425 1536 446 1534 467 1533 489 1531 510 1529 531 1523 552 1513 573 1502 594 1492 615 1486 637 1483 658 1479 679 1476 700 1472 721 1469 742 1468 763 1468 785 1468 806 1467 827 1467 848 1467 869 1467 890 1466 911 1466 933 1466 954 1465 975 1465 996 1465 1017 1464 1038 1464 1059 1464 1081 1463 1102 1463 1123 1463 1144 1463 1165 1462 1186 1462 1207 1462 1229 1461 1250 1461 1271 1461 1292 1460 1313 1460 1334 1460 1355 1459 1376 1459 1376 2535 383 2535Z" fill="#bd1521"/>
<path d="M383 1547 404 1546 425 1544 446 1543 467 1541 489 1540 510 1538 531 1532 552 1522 573 1511 594 1500 615 1495 637 1491 658 1488 679 1484 700 1481 721 1477 742 1477 763 1477 785 1477 806 1476 827 1476 848 1476 869 1475 890 1475 911 1475 933 1474 954 1474 975 1474 996 1473 1017 1473 1038 1473 1059 1473 1081 1472 1102 1472 1123 1472 1144 1471 1165 1471 1186 1471 1207 1470 1229 1470 1250 1470 1271 1469 1292 1469 1313 1469 1334 1468 1355 1468 1376 1468 1376 2535 383 2535Z" fill="#c01521"/>
<path d="M383 1556 404 1555 425 1553 446 1552 467 1550 489 1548 510 1547 531 1541 552 1530 573 1520 594 1509 615 1504 637 1500 658 1497 679 1493 700 1490 721 1486 742 1486 763 1486 785 1485 806 1485 827 1485 848 1484 869 1484 890 1484 911 1483 933 1483 954 1483 975 1483 996 1482 1017 1482 1038 1482 1059 1481 1081 1481 1102 1481 1123 1480 1144 1480 1165 1480 1186 1479 1207 1479 1229 1479 1250 1478 1271 1478 1292 1478 1313 1478 1334 1477 1355 1477 1376 1477 1376 2535 383 2535Z" fill="#c61821"/>
<path d="M383 1565 404 1563 425 1562 446 1560 467 1559 489 1557 510 1556 531 1550 552 1539 573 1528 594 1518 615 1512 637 1509 658 1505 679 1502 700 1498 721 1495 742 1495 763 1494 785 1494 806 1494 827 1493 848 1493 869 1493 890 1492 911 1492 933 1492 954 1492 975 1491 996 1491 1017 1491 1038 1490 1059 1490 1081 1490 1102 1489 1123 1489 1144 1489 1165 1488 1186 1488 1207 1488 1229 1488 1250 1487 1271 1487 1292 1487 1313 1486 1334 1486 1355 1486 1376 1485 1376 2535 383 2535Z" fill="#cc1821"/>
<path d="M383 1573 404 1571 425 1570 446 1568 467 1567 489 1565 510 1564 531 1558 552 1547 573 1537 594 1527 615 1521 637 1518 658 1515 679 1511 700 1508 721 1504 742 1504 763 1504 785 1504 806 1503 827 1503 848 1503 869 1502 890 1502 911 1502 933 1501 954 1501 975 1501 996 1501 1017 1500 1038 1500 1059 1500 1081 1499 1102 1499 1123 1499 1144 1498 1165 1498 1186 1498 1207 1498 1229 1497 1250 1497 1271 1497 1292 1496 1313 1496 1334 1496 1355 1495 1376 1495 1376 2535 383 2535Z" fill="#cf1821"/>
<path d="M383 1580 404 1578 425 1577 446 1575 467 1574 489 1573 510 1571 531 1566 552 1556 573 1546 594 1536 615 1531 637 1527 658 1524 679 1521 700 1518 721 1515 742 1514 763 1514 785 1514 806 1514 827 1513 848 1513 869 1513 890 1513 911 1512 933 1512 954 1512 975 1512 996 1511 1017 1511 1038 1511 1059 1510 1081 1510 1102 1510 1123 1510 1144 1509 1165 1509 1186 1509 1207 1508 1229 1508 1250 1508 1271 1508 1292 1507 1313 1507 1334 1507 1355 1507 1376 1506 1376 2535 383 2535Z" fill="#d51821"/>
<path d="M383 1586 404 1585 425 1584 446 1583 467 1581 489 1580 510 1579 531 1573 552 1564 573 1554 594 1545 615 1540 637 1537 658 1534 679 1531 700 1528 721 1525 742 1525 763 1524 785 1524 806 1524 827 1524 848 1524 869 1523 890 1523 911 1523 933 1523 954 1522 975 1522 996 1522 1017 1522 1038 1521 1059 1521 1081 1521 1102 1521 1123 1520 1144 1520 1165 1520 1186 1520 1207 1519 1229 1519 1250 1519 1271 1519 1292 1518 1313 1518 1334 1518 1355 1518 1376 1517 1376 2535 383 2535Z" fill="#d81b24"/>
<path d="M383 1593 404 1592 425 1591 446 1590 467 1588 489 1587 510 1586 531 1581 552 1572 573 1563 594 1554 615 1549 637 1546 658 1543 679 1540 700 1538 721 1535 742 1535 763 1535 785 1535 806 1535 827 1535 848 1534 869 1534 890 1534 911 1534 933 1533 954 1533 975 1533 996 1533 1017 1532 1038 1532 1059 1532 1081 1532 1102 1532 1123 1531 1144 1531 1165 1531 1186 1531 1207 1530 1229 1530 1250 1530 1271 1530 1292 1529 1313 1529 1334 1529 1355 1529 1376 1529 1376 2535 383 2535Z" fill="#de1b24"/>
<path d="M383 1600 404 1599 425 1598 446 1597 467 1596 489 1595 510 1593 531 1589 552 1580 573 1571 594 1563 615 1558 637 1556 658 1553 679 1550 700 1548 721 1545 742 1545 763 1545 785 1545 806 1545 827 1545 848 1545 869 1545 890 1544 911 1544 933 1544 954 1544 975 1544 996 1543 1017 1543 1038 1543 1059 1543 1081 1543 1102 1542 1123 1542 1144 1542 1165 1542 1186 1542 1207 1541 1229 1541 1250 1541 1271 1541 1292 1541 1313 1540 1334 1540 1355 1540 1376 1540 1376 2535 383 2535Z" fill="#e11b24"/>
<path d="M383 1607 404 1606 425 1605 446 1604 467 1603 489 1602 510 1601 531 1596 552 1588 573 1580 594 1572 615 1567 637 1565 658 1562 679 1560 700 1558 721 1555 742 1555 763 1555 785 1556 806 1556 827 1556 848 1555 869 1555 890 1555 911 1555 933 1555 954 1554 975 1554 996 1554 1017 1554 1038 1554 1059 1554 1081 1553 1102 1553 1123 1553 1144 1553 1165 1553 1186 1552 1207 1552 1229 1552 1250 1552 1271 1552 1292 1552 1313 1551 1334 1551 1355 1551 1376 1551 1376 2535 383 2535Z" fill="#e41b24"/>
<path d="M383 1735 404 1736 425 1737 446 1738 467 1738 489 1739 510 1740 531 1741 552 1741 573 1741 594 1741 615 1741 637 1742 658 1743 679 1745 700 1746 721 1747 742 1749 763 1750 785 1752 806 1753 827 1754 848 1754 869 1755 890 1755 911 1755 933 1755 954 1756 975 1756 996 1756 1017 1756 1038 1757 1059 1757 1081 1757 1102 1758 1123 1758 1144 1758 1165 1758 1186 1759 1207 1759 1229 1759 1250 1759 1271 1760 1292 1760 1313 1760 1334 1760 1355 1761 1376 1761 1376 2535 383 2535Z" fill="#ed1e24"/>
<path d="M383 1739 404 1740 425 1741 446 1742 467 1743 489 1744 510 1744 531 1745 552 1745 573 1745 594 1746 615 1746 637 1748 658 1749 679 1750 700 1752 721 1753 742 1755 763 1756 785 1758 806 1759 827 1760 848 1760 869 1761 890 1761 911 1761 933 1761 954 1762 975 1762 996 1762 1017 1763 1038 1763 1059 1763 1081 1763 1102 1764 1123 1764 1144 1764 1165 1765 1186 1765 1207 1765 1229 1765 1250 1766 1271 1766 1292 1766 1313 1767 1334 1767 1355 1767 1376 1767 1376 2535 383 2535Z" fill="#ed2124"/>
<path d="M383 1742 404 1744 425 1745 446 1746 467 1747 489 1748 510 1749 531 1749 552 1750 573 1750 594 1751 615 1752 637 1753 658 1754 679 1756 700 1757 721 1759 742 1760 763 1762 785 1764 806 1765 827 1766 848 1766 869 1767 890 1767 911 1767 933 1768 954 1768 975 1768 996 1768 1017 1769 1038 1769 1059 1769 1081 1770 1102 1770 1123 1770 1144 1770 1165 1771 1186 1771 1207 1771 1229 1772 1250 1772 1271 1772 1292 1773 1313 1773 1334 1773 1355 1773 1376 1774 1376 2535 383 2535Z" fill="#ed2424"/>
<path d="M383 1746 404 1748 425 1749 446 1750 467 1751 489 1752 510 1753 531 1754 552 1754 573 1755 594 1756 615 1757 637 1758 658 1760 679 1761 700 1763 721 1765 742 1766 763 1768 785 1769 806 1771 827 1772 848 1772 869 1773 890 1773 911 1773 933 1774 954 1774 975 1774 996 1775 1017 1775 1038 1775 1059 1775 1081 1776 1102 1776 1123 1776 1144 1777 1165 1777 1186 1777 1207 1778 1229 1778 1250 1778 1271 1779 1292 1779 1313 1779 1334 1779 1355 1780 1376 1780 1376 2535 383 2535Z" fill="#ed2424"/>
<path d="M383 1750 404 1751 425 1753 446 1754 467 1755 489 1756 510 1757 531 1758 552 1759 573 1760 594 1761 615 1762 637 1764 658 1765 679 1767 700 1769 721 1770 742 1772 763 1774 785 1775 806 1777 827 1778 848 1778 869 1779 890 1779 911 1779 933 1780 954 1780 975 1780 996 1781 1017 1781 1038 1781 1059 1782 1081 1782 1102 1782 1123 1783 1144 1783 1165 1783 1186 1784 1207 1784 1229 1784 1250 1785 1271 1785 1292 1785 1313 1785 1334 1786 1355 1786 1376 1786 1376 2535 383 2535Z" fill="#ed2724"/>
<path d="M383 1756 404 1757 425 1758 446 1760 467 1761 489 1762 510 1763 531 1764 552 1765 573 1766 594 1767 615 1768 637 1770 658 1772 679 1773 700 1775 721 1777 742 1778 763 1780 785 1782 806 1783 827 1784 848 1785 869 1785 890 1785 911 1786 933 1786 954 1786 975 1787 996 1787 1017 1787 1038 1788 1059 1788 1081 1788 1102 1789 1123 1789 1144 1789 1165 1790 1186 1790 1207 1790 1229 1791 1250 1791 1271 1791 1292 1792 1313 1792 1334 1792 1355 1793 1376 1793 1376 2535 383 2535Z" fill="#f03c24"/>
<path d="M383 1763 404 1765 425 1766 446 1767 467 1768 489 1769 510 1770 531 1771 552 1772 573 1773 594 1774 615 1775 637 1777 658 1779 679 1780 700 1782 721 1783 742 1785 763 1787 785 1788 806 1790 827 1791 848 1791 869 1792 890 1792 911 1793 933 1793 954 1793 975 1794 996 1794 1017 1794 1038 1795 1059 1795 1081 1795 1102 1795 1123 1796 1144 1796 1165 1796 1186 1797 1207 1797 1229 1797 1250 1798 1271 1798 1292 1798 1313 1799 1334 1799 1355 1799 1376 1800 1376 2535 383 2535Z" fill="#f35121"/>
<path d="M383 1771 404 1772 425 1773 446 1774 467 1775 489 1776 510 1777 531 1778 552 1779 573 1781 594 1782 615 1783 637 1784 658 1786 679 1787 700 1789 721 1790 742 1792 763 1793 785 1795 806 1796 827 1797 848 1798 869 1799 890 1799 911 1799 933 1800 954 1800 975 1800 996 1801 1017 1801 1038 1801 1059 1802 1081 1802 1102 1802 1123 1803 1144 1803 1165 1803 1186 1803 1207 1804 1229 1804 1250 1804 1271 1805 1292 1805 1313 1805 1334 1806 1355 1806 1376 1806 1376 2535 383 2535Z" fill="#f36321"/>
<path d="M383 1778 404 1779 425 1781 446 1782 467 1783 489 1784 510 1785 531 1786 552 1787 573 1788 594 1789 615 1790 637 1791 658 1793 679 1794 700 1796 721 1797 742 1799 763 1800 785 1801 806 1803 827 1804 848 1805 869 1805 890 1806 911 1806 933 1806 954 1807 975 1807 996 1807 1017 1808 1038 1808 1059 1808 1081 1809 1102 1809 1123 1809 1144 1810 1165 1810 1186 1810 1207 1810 1229 1811 1250 1811 1271 1811 1292 1812 1313 1812 1334 1812 1355 1813 1376 1813 1376 2535 383 2535Z" fill="#f67821"/>
<path d="M383 1786 404 1787 425 1788 446 1789 467 1790 489 1791 510 1792 531 1793 552 1794 573 1795 594 1796 615 1797 637 1798 658 1799 679 1801 700 1802 721 1804 742 1805 763 1807 785 1808 806 1809 827 1811 848 1811 869 1812 890 1813 911 1813 933 1813 954 1814 975 1814 996 1814 1017 1814 1038 1815 1059 1815 1081 1815 1102 1816 1123 1816 1144 1816 1165 1817 1186 1817 1207 1817 1229 1818 1250 1818 1271 1818 1292 1818 1313 1819 1334 1819 1355 1819 1376 1820 1376 2535 383 2535Z" fill="#f98d1e"/>
<path d="M383 1793 404 1794 425 1795 446 1797 467 1797 489 1798 510 1799 531 1800 552 1801 573 1802 594 1803 615 1804 637 1805 658 1806 679 1808 700 1809 721 1811 742 1812 763 1813 785 1815 806 1816 827 1817 848 1818 869 1819 890 1819 911 1820 933 1820 954 1820 975 1821 996 1821 1017 1821 1038 1821 1059 1822 1081 1822 1102 1822 1123 1823 1144 1823 1165 1823 1186 1824 1207 1824 1229 1824 1250 1825 1271 1825 1292 1825 1313 1825 1334 1826 1355 1826 1376 1826 1376 2535 383 2535Z" fill="#f99f1e"/>
<path d="M383 1800 404 1802 425 1803 446 1804 467 1805 489 1806 510 1807 531 1807 552 1808 573 1809 594 1810 615 1811 637 1812 658 1813 679 1815 700 1816 721 1817 742 1819 763 1820 785 1821 806 1822 827 1824 848 1825 869 1826 890 1826 911 1826 933 1827 954 1827 975 1827 996 1828 1017 1828 1038 1828 1059 1829 1081 1829 1102 1829 1123 1829 1144 1830 1165 1830 1186 1830 1207 1831 1229 1831 1250 1831 1271 1832 1292 1832 1313 1832 1334 1832 1355 1833 1376 1833 1376 2535 383 2535Z" fill="#fcab18"/>
<path d="M383 1808 404 1809 425 1810 446 1811 467 1812 489 1813 510 1814 531 1815 552 1816 573 1816 594 1817 615 1818 637 1819 658 1820 679 1822 700 1823 721 1824 742 1825 763 1827 785 1828 806 1829 827 1830 848 1831 869 1833 890 1833 911 1833 933 1834 954 1834 975 1834 996 1834 1017 1835 1038 1835 1059 1835 1081 1836 1102 1836 1123 1836 1144 1836 1165 1837 1186 1837 1207 1837 1229 1838 1250 1838 1271 1838 1292 1839 1313 1839 1334 1839 1355 1839 1376 1840 1376 2535 383 2535Z" fill="#fcb715"/>
<path d="M383 1815 404 1816 425 1818 446 1819 467 1820 489 1820 510 1821 531 1822 552 1823 573 1824 594 1824 615 1825 637 1826 658 1827 679 1829 700 1830 721 1831 742 1832 763 1833 785 1834 806 1835 827 1837 848 1838 869 1839 890 1840 911 1840 933 1840 954 1841 975 1841 996 1841 1017 1841 1038 1842 1059 1842 1081 1842 1102 1843 1123 1843 1144 1843 1165 1843 1186 1844 1207 1844 1229 1844 1250 1845 1271 1845 1292 1845 1313 1845 1334 1846 1355 1846 1376 1846 1376 2535 383 2535Z" fill="#fcc30f"/>
<path d="M383 1823 404 1824 425 1825 446 1826 467 1827 489 1828 510 1829 531 1829 552 1830 573 1831 594 1832 615 1832 637 1833 658 1834 679 1835 700 1837 721 1838 742 1839 763 1840 785 1841 806 1842 827 1843 848 1845 869 1846 890 1846 911 1847 933 1847 954 1847 975 1848 996 1848 1017 1848 1038 1848 1059 1849 1081 1849 1102 1849 1123 1850 1144 1850 1165 1850 1186 1850 1207 1851 1229 1851 1250 1851 1271 1852 1292 1852 1313 1852 1334 1852 1355 1853 1376 1853 1376 2535 383 2535Z" fill="#fccf0c"/>
<path d="M383 1830 404 1831 425 1832 446 1834 467 1834 489 1835 510 1836 531 1837 552 1837 573 1838 594 1839 615 1839 637 1840 658 1841 679 1842 700 1843 721 1844 742 1845 763 1847 785 1848 806 1849 827 1850 848 1851 869 1853 890 1853 911 1854 933 1854 954 1854 975 1854 996 1855 1017 1855 1038 1855 1059 1856 1081 1856 1102 1856 1123 1856 1144 1857 1165 1857 1186 1857 1207 1857 1229 1858 1250 1858 1271 1858 1292 1859 1313 1859 1334 1859 1355 1859 1376 1860 1376 2535 383 2535Z" fill="#ffdb06"/>
<path d="M383 1836 404 1837 425 1838 446 1839 467 1840 489 1841 510 1842 531 1843 552 1844 573 1845 594 1846 615 1847 637 1848 658 1849 679 1850 700 1851 721 1852 742 1854 763 1855 785 1856 806 1857 827 1858 848 1860 869 1861 890 1862 911 1862 933 1862 954 1862 975 1862 996 1862 1017 1861 1038 1862 1059 1862 1081 1862 1102 1862 1123 1863 1144 1863 1165 1863 1186 1863 1207 1864 1229 1864 1250 1864 1271 1865 1292 1865 1313 1865 1334 1865 1355 1866 1376 1866 1376 2535 383 2535Z" fill="#ffe703"/>
<path d="M383 1842 404 1843 425 1844 446 1845 467 1846 489 1847 510 1848 531 1849 552 1850 573 1851 594 1852 615 1854 637 1855 658 1856 679 1858 700 1859 721 1860 742 1862 763 1863 785 1864 806 1865 827 1867 848 1868 869 1870 890 1870 911 1870 933 1870 954 1870 975 1869 996 1869 1017 1868 1038 1868 1059 1868 1081 1869 1102 1869 1123 1869 1144 1869 1165 1870 1186 1870 1207 1870 1229 1870 1250 1871 1271 1871 1292 1871 1313 1871 1334 1871 1355 1872 1376 1872 1376 2535 383 2535Z" fill="#ffed00"/>
<path d="M383 1922 404 1924 425 1927 446 1929 467 1931 489 1934 510 1936 531 1938 552 1941 573 1944 594 1948 615 1952 637 1956 658 1960 679 1964 700 1967 721 1971 742 1974 763 1977 785 1980 806 1982 827 1984 848 1985 869 1986 890 1987 911 1985 933 1984 954 1980 975 1974 996 1967 1017 1960 1038 1959 1059 1958 1081 1958 1102 1958 1123 1958 1144 1958 1165 1958 1186 1958 1207 1958 1229 1958 1250 1958 1271 1958 1292 1958 1313 1958 1334 1958 1355 1958 1376 1958 1376 2535 383 2535Z" fill="#fcf006"/>
<path d="M383 1926 404 1928 425 1931 446 1934 467 1936 489 1938 510 1940 531 1943 552 1946 573 1949 594 1953 615 1957 637 1961 658 1965 679 1969 700 1973 721 1977 742 1980 763 1983 785 1986 806 1988 827 1990 848 1991 869 1992 890 1993 911 1991 933 1990 954 1986 975 1979 996 1972 1017 1964 1038 1963 1059 1963 1081 1963 1102 1963 1123 1963 1144 1963 1165 1963 1186 1963 1207 1963 1229 1963 1250 1963 1271 1963 1292 1962 1313 1962 1334 1962 1355 1962 1376 1962 1376 2535 383 2535Z" fill="#f9f009"/>
<path d="M383 1931 404 1933 425 1935 446 1938 467 1940 489 1943 510 1945 531 1947 552 1951 573 1954 594 1958 615 1962 637 1967 658 1971 679 1975 700 1979 721 1983 742 1986 763 1989 785 1992 806 1995 827 1996 848 1997 869 1998 890 1999 911 1998 933 1996 954 1991 975 1985 996 1977 1017 1969 1038 1968 1059 1968 1081 1968 1102 1968 1123 1968 1144 1968 1165 1968 1186 1968 1207 1968 1229 1967 1250 1967 1271 1967 1292 1967 1313 1967 1334 1967 1355 1967 1376 1967 1376 2535 383 2535Z" fill="#f6ed0c"/>
<path d="M383 1935 404 1937 425 1940 446 1943 467 1945 489 1947 510 1950 531 1952 552 1956 573 1959 594 1963 615 1967 637 1972 658 1976 679 1981 700 1985 721 1989 742 1992 763 1995 785 1998 806 2001 827 2003 848 2004 869 2005 890 2005 911 2004 933 2002 954 1997 975 1990 996 1982 1017 1974 1038 1973 1059 1973 1081 1973 1102 1973 1123 1973 1144 1973 1165 1972 1186 1972 1207 1972 1229 1972 1250 1972 1271 1972 1292 1972 1313 1972 1334 1972 1355 1971 1376 1971 1376 2535 383 2535Z" fill="#f3ed0c"/>
<path d="M383 1939 404 1941 425 1944 446 1947 467 1950 489 1952 510 1954 531 1957 552 1961 573 1964 594 1968 615 1973 637 1977 658 1982 679 1986 700 1991 721 1995 742 1998 763 2001 785 2004 806 2007 827 2009 848 2010 869 2011 890 2012 911 2010 933 2008 954 2003 975 1996 996 1988 1017 1979 1038 1978 1059 1978 1081 1978 1102 1978 1123 1977 1144 1977 1165 1977 1186 1977 1207 1977 1229 1977 1250 1977 1271 1977 1292 1976 1313 1976 1334 1976 1355 1976 1376 1976 1376 2535 383 2535Z" fill="#f0ed0f"/>
<path d="M383 1944 404 1946 425 1949 446 1951 467 1954 489 1957 510 1959 531 1962 552 1965 573 1969 594 1973 615 1978 637 1983 658 1988 679 1992 700 1996 721 2001 742 2005 763 2007 785 2010 806 2013 827 2015 848 2016 869 2017 890 2018 911 2016 933 2014 954 2009 975 2002 996 1993 1017 1984 1038 1983 1059 1983 1081 1982 1102 1982 1123 1982 1144 1982 1165 1982 1186 1982 1207 1982 1229 1982 1250 1981 1271 1981 1292 1981 1313 1981 1334 1981 1355 1981 1376 1981 1376 2535 383 2535Z" fill="#edea12"/>
<path d="M383 1948 404 1950 425 1953 446 1956 467 1959 489 1961 510 1964 531 1966 552 1970 573 1974 594 1979 615 1983 637 1988 658 1993 679 1998 700 2002 721 2007 742 2011 763 2014 785 2017 806 2020 827 2021 848 2022 869 2023 890 2024 911 2022 933 2020 954 2015 975 2007 996 1998 1017 1989 1038 1988 1059 1987 1081 1987 1102 1987 1123 1987 1144 1987 1165 1987 1186 1987 1207 1986 1229 1986 1250 1986 1271 1986 1292 1986 1313 1986 1334 1985 1355 1985 1376 1985 1376 2535 383 2535Z" fill="#eaea15"/>
<path d="M383 1952 404 1954 425 1957 446 1960 467 1963 489 1966 510 1968 531 1971 552 1975 573 1979 594 1984 615 1989 637 1994 658 1999 679 2003 700 2008 721 2012 742 2017 763 2020 785 2023 806 2026 827 2028 848 2029 869 2030 890 2030 911 2028 933 2026 954 2021 975 2013 996 2003 1017 1994 1038 1992 1059 1992 1081 1992 1102 1992 1123 1992 1144 1992 1165 1991 1186 1991 1207 1991 1229 1991 1250 1991 1271 1991 1292 1990 1313 1990 1334 1990 1355 1990 1376 1990 1376 2535 383 2535Z" fill="#e7ea18"/>
<path d="M383 1956 404 1959 425 1962 446 1965 467 1968 489 1970 510 1973 531 1976 552 1980 573 1984 594 1989 615 1994 637 1999 658 2004 679 2009 700 2014 721 2018 742 2023 763 2026 785 2029 806 2032 827 2034 848 2035 869 2036 890 2037 911 2035 933 2033 954 2027 975 2018 996 2009 1017 1999 1038 1997 1059 1997 1081 1997 1102 1997 1123 1997 1144 1996 1165 1996 1186 1996 1207 1996 1229 1996 1250 1995 1271 1995 1292 1995 1313 1995 1334 1995 1355 1994 1376 1994 1376 2535 383 2535Z" fill="#e4e718"/>
<path d="M383 1961 404 1963 425 1966 446 1969 467 1972 489 1975 510 1978 531 1981 552 1985 573 1989 594 1994 615 1999 637 2004 658 2010 679 2015 700 2020 721 2024 742 2029 763 2032 785 2035 806 2038 827 2040 848 2041 869 2042 890 2043 911 2041 933 2039 954 2033 975 2024 996 2014 1017 2004 1038 2002 1059 2002 1081 2002 1102 2002 1123 2001 1144 2001 1165 2001 1186 2001 1207 2001 1229 2000 1250 2000 1271 2000 1292 2000 1313 2000 1334 1999 1355 1999 1376 1999 1376 2535 383 2535Z" fill="#c9e121"/>
<path d="M383 1965 404 1967 425 1971 446 1974 467 1977 489 1980 510 1982 531 1985 552 1990 573 1994 594 1999 615 2004 637 2010 658 2015 679 2020 700 2025 721 2030 742 2035 763 2038 785 2041 806 2045 827 2047 848 2047 869 2048 890 2049 911 2047 933 2045 954 2039 975 2030 996 2019 1017 2009 1038 2007 1059 2007 1081 2007 1102 2006 1123 2006 1144 2006 1165 2006 1186 2005 1207 2005 1229 2005 1250 2005 1271 2005 1292 2004 1313 2004 1334 2004 1355 2004 1376 2003 1376 2535 383 2535Z" fill="#aed82a"/>
<path d="M383 1969 404 1972 425 1975 446 1978 467 1981 489 1984 510 1987 531 1990 552 1995 573 1999 594 2004 615 2010 637 2015 658 2021 679 2026 700 2031 721 2036 742 2041 763 2044 785 2048 806 2051 827 2053 848 2054 869 2055 890 2055 911 2053 933 2051 954 2044 975 2035 996 2024 1017 2014 1038 2012 1059 2012 1081 2011 1102 2011 1123 2011 1144 2011 1165 2010 1186 2010 1207 2010 1229 2010 1250 2009 1271 2009 1292 2009 1313 2009 1334 2009 1355 2008 1376 2008 1376 2535 383 2535Z" fill="#93cf33"/>
<path d="M383 1974 404 1976 425 1980 446 1983 467 1986 489 1989 510 1992 531 1995 552 1999 573 2004 594 2009 615 2015 637 2021 658 2026 679 2032 700 2037 721 2042 742 2047 763 2050 785 2054 806 2057 827 2059 848 2060 869 2061 890 2062 911 2059 933 2057 954 2050 975 2041 996 2030 1017 2018 1038 2017 1059 2016 1081 2016 1102 2016 1123 2016 1144 2015 1165 2015 1186 2015 1207 2015 1229 2014 1250 2014 1271 2014 1292 2014 1313 2013 1334 2013 1355 2013 1376 2013 1376 2535 383 2535Z" fill="#78c639"/>
<path d="M383 1978 404 1981 425 1984 446 1987 467 1991 489 1994 510 1997 531 2000 552 2004 573 2009 594 2014 615 2020 637 2026 658 2032 679 2038 700 2043 721 2048 742 2053 763 2056 785 2060 806 2063 827 2065 848 2066 869 2067 890 2068 911 2065 933 2063 954 2056 975 2046 996 2035 1017 2023 1038 2022 1059 2021 1081 2021 1102 2021 1123 2020 1144 2020 1165 2020 1186 2020 1207 2019 1229 2019 1250 2019 1271 2019 1292 2018 1313 2018 1334 2018 1355 2018 1376 2017 1376 2535 383 2535Z" fill="#54bd42"/>
<path d="M383 1982 404 1985 425 1988 446 1992 467 1995 489 1998 510 2001 531 2004 552 2009 573 2014 594 2019 615 2025 637 2031 658 2037 679 2043 700 2048 721 2053 742 2058 763 2062 785 2065 806 2069 827 2071 848 2072 869 2072 890 2073 911 2071 933 2068 954 2061 975 2051 996 2040 1017 2028 1038 2026 1059 2026 1081 2025 1102 2025 1123 2025 1144 2025 1165 2024 1186 2024 1207 2024 1229 2024 1250 2023 1271 2023 1292 2023 1313 2022 1334 2022 1355 2022 1376 2022 1376 2535 383 2535Z" fill="#30b448"/>
<path d="M383 1986 404 1988 425 1992 446 1995 467 1999 489 2002 510 2005 531 2008 552 2013 573 2018 594 2023 615 2029 637 2035 658 2041 679 2046 700 2052 721 2057 742 2062 763 2065 785 2069 806 2073 827 2075 848 2075 869 2076 890 2077 911 2075 933 2072 954 2065 975 2055 996 2043 1017 2032 1038 2030 1059 2029 1081 2029 1102 2029 1123 2029 1144 2028 1165 2028 1186 2028 1207 2028 1229 2027 1250 2027 1271 2027 1292 2026 1313 2026 1334 2026 1355 2026 1376 2025 1376 2535 383 2535Z" fill="#0ca84e"/>
<path d="M383 1990 404 1992 425 1996 446 1999 467 2002 489 2005 510 2008 531 2011 552 2016 573 2021 594 2027 615 2032 637 2038 658 2044 679 2050 700 2055 721 2061 742 2066 763 2069 785 2073 806 2076 827 2078 848 2079 869 2080 890 2081 911 2078 933 2076 954 2069 975 2059 996 2047 1017 2035 1038 2034 1059 2033 1081 2033 1102 2033 1123 2032 1144 2032 1165 2032 1186 2032 1207 2031 1229 2031 1250 2031 1271 2030 1292 2030 1313 2030 1334 2030 1355 2029 1376 2029 1376 2535 383 2535Z" fill="#00a551"/>
<rect x="1255" y="2150" width="400" height="300" fill="#00a551"/>
<rect x="1269" y="2150" width="400" height="300" fill="#24b14b"/>
<rect x="1282" y="2150" width="400" height="300" fill="#48ba42"/>
<rect x="1296" y="2150" width="400" height="300" fill="#6cc33c"/>
<rect x="1310" y="2150" width="400" height="300" fill="#8acc33"/>
<rect x="1323" y="2150" width="400" height="300" fill="#a5d52d"/>
<rect x="1337" y="2150" width="400" height="300" fill="#c0de24"/>
<rect x="1350" y="2150" width="400" height="300" fill="#dbe41b"/>
<rect x="1364" y="2150" width="400" height="300" fill="#e7ea18"/>
</g></g>
<g clip-path="url(#cpS1)" fill="none" stroke-linejoin="round">
<path d="M432 2105 443 2072 454 2040 466 2012 477 1984M471 2161 482 2129 493 2100 505 2074 516 2048 527 2017 539 1981M510 2212 521 2183 532 2156 544 2131 555 2107 566 2078 578 2043 589 2012M549 2261 560 2234 571 2208 583 2184 594 2161 605 2133 617 2101 628 2070 639 2042 651 2015M588 2307 599 2282 610 2258 622 2236 633 2214 644 2188 656 2157 667 2129 678 2103 690 2077 701 2049M627 2351 638 2327 649 2305 661 2285 672 2265 683 2241 695 2212 706 2186 717 2161 729 2137 740 2111 751 2086 763 2064M666 2391 677 2369 688 2349 700 2330 711 2312 722 2289 734 2262 745 2237 756 2214 768 2191 779 2167 790 2143 802 2122 813 2103 824 2085 835 2068M705 2427 716 2407 728 2388 739 2370 750 2353 761 2331 773 2305 784 2281 795 2259 807 2237 818 2214 829 2191 841 2171 852 2152 863 2135 874 2118 886 2104 897 2092 908 2081 920 2071M744 2459 755 2439 767 2421 778 2404 789 2387 800 2366 812 2342 823 2319 834 2297 846 2276 857 2253 868 2231 880 2212 891 2193 902 2176 913 2160 925 2146 936 2134 947 2122 959 2113 970 2105 981 2098 993 2092 1004 2087 1015 2083M783 2484 794 2466 806 2449 817 2432 828 2416 839 2396 851 2372 862 2350 873 2330 885 2309 896 2286 907 2265 919 2246 930 2228 941 2212 953 2196 964 2182 975 2169 986 2158 998 2149 1009 2140 1020 2133 1032 2126 1043 2121 1054 2117M822 2502 833 2485 845 2469 856 2453 867 2437 878 2418 890 2396 901 2374 912 2355 924 2335 935 2313 946 2292 958 2274 969 2257 980 2241 992 2225 1003 2211 1014 2199 1025 2188 1037 2178 1048 2169 1059 2162 1071 2155 1082 2150 1093 2145M861 2512 872 2496 884 2481 895 2466 906 2451 917 2433 929 2412 940 2392 951 2373 963 2354 974 2333 985 2313 997 2295 1008 2279 1019 2263 1031 2249 1042 2235 1053 2223 1064 2212 1076 2202 1087 2193 1098 2186 1110 2179 1121 2173 1132 2168M900 2515 911 2500 923 2486 934 2473 945 2459 956 2441 968 2421 979 2402 990 2384 1002 2366 1013 2346 1024 2327 1036 2310 1047 2295 1058 2280 1070 2265 1081 2252 1092 2240 1104 2229 1115 2219 1126 2211 1137 2203 1149 2196 1160 2190 1171 2185M939 2512 950 2499 962 2486 973 2474 984 2460 996 2444 1007 2425 1018 2407 1029 2390 1041 2373 1052 2353 1063 2335 1075 2319 1086 2304 1097 2290 1109 2276 1120 2263 1131 2251 1143 2240 1154 2231 1165 2222 1176 2214 1188 2207 1199 2201 1210 2196M978 2504 989 2492 1001 2481 1012 2469 1023 2456 1035 2441 1046 2423 1057 2407 1068 2391 1080 2374 1091 2356 1102 2338 1114 2323 1125 2309 1136 2295 1148 2282 1159 2270 1170 2258 1182 2247 1193 2237 1204 2229 1215 2221 1227 2214 1238 2208 1249 2203M1017 2491 1028 2481 1040 2470 1051 2459 1062 2448 1074 2434 1085 2417 1096 2402 1107 2387 1119 2371 1130 2354 1141 2337 1153 2323 1164 2310 1175 2297 1187 2285 1198 2273 1209 2262 1221 2251 1232 2241 1243 2233 1255 2225 1266 2218 1277 2212M1056 2472 1067 2464 1079 2455 1090 2445 1101 2435 1113 2422 1124 2407 1135 2393 1146 2379 1158 2365 1169 2348 1180 2332 1192 2319 1203 2307 1214 2295 1226 2283 1237 2272 1248 2262 1260 2251 1271 2242 1282 2233M1095 2447 1106 2440 1118 2433 1129 2425 1140 2415 1152 2404 1163 2391 1174 2379 1186 2366 1197 2353 1208 2338 1219 2324 1231 2312 1242 2301 1253 2290 1265 2279 1276 2269M406 2060 419 2084 432 2105 445 2125 458 2143 471 2161 484 2178 497 2195 510 2212 523 2229 536 2245 549 2261 562 2277 575 2292 588 2307 601 2322 614 2337 627 2351 640 2364 653 2378 666 2391 679 2404 692 2416 705 2427 718 2438 731 2449 744 2459 757 2468 770 2476 783 2484 796 2490 809 2497 822 2502 835 2506 848 2509 861 2512 874 2514 887 2515 900 2515 913 2514 926 2513 939 2512 952 2511 965 2508 978 2504 991 2500 1004 2496 1017 2491 1030 2485 1043 2479 1056 2472 1069 2465 1082 2456 1095 2447M466 2012 479 2034 492 2054 505 2074 518 2094 531 2113 544 2131 557 2149 570 2167 583 2184 596 2202 609 2219 622 2236 635 2253 648 2269 661 2285 674 2301 687 2316 700 2330 713 2344 726 2358 739 2370 752 2382 765 2394 778 2404 791 2414 804 2424 817 2432 830 2440 843 2447 856 2453 869 2458 882 2462 895 2466 908 2469 921 2472 934 2473 947 2473 960 2474 973 2474 986 2473 999 2471 1012 2469 1025 2466 1038 2463 1051 2459 1064 2455 1077 2450 1090 2445 1103 2439 1116 2432 1129 2425M565 2024 578 2043 591 2062 604 2081 617 2101 630 2120 643 2139 656 2157 669 2176 682 2194 695 2212 708 2230 721 2246 734 2262 747 2277 760 2292 773 2305 786 2318 799 2330 812 2342 825 2352 838 2363 851 2372 864 2380 877 2388 890 2396 903 2402 916 2407 929 2412 942 2416 955 2419 968 2421 981 2423 994 2424 1007 2425 1020 2425 1033 2425 1046 2423 1059 2422 1072 2420 1085 2417 1098 2414 1111 2411 1124 2407 1137 2402 1150 2397 1163 2391M677 2056 690 2077 703 2097 716 2117 729 2137 742 2156 755 2174 768 2191 781 2207 794 2223 807 2237 820 2251 833 2264 846 2276 859 2288 872 2299 885 2309 898 2318 911 2327 924 2335 937 2341 950 2348 963 2354 976 2359 989 2363 1002 2366 1015 2369 1028 2371 1041 2373 1054 2374 1067 2374 1080 2374 1093 2373 1106 2373 1119 2371 1132 2370 1145 2367 1158 2365 1171 2361 1184 2357 1197 2353M776 2085 789 2104 802 2122 815 2140 828 2156 841 2171 854 2185 867 2199 880 2212 893 2224 906 2235 919 2246 932 2256 945 2265 958 2274 971 2281 984 2288 997 2295 1010 2301 1023 2306 1036 2310 1049 2313 1062 2316 1075 2319 1088 2321 1101 2322 1114 2323 1127 2323 1140 2324 1153 2323 1166 2322 1179 2321 1192 2319 1205 2317 1218 2315 1231 2312M848 2086 861 2103 874 2118 887 2133 900 2147 913 2160 927 2173 940 2185 953 2196 966 2206 979 2216 992 2225 1005 2233 1018 2241 1031 2249 1044 2255 1057 2261 1070 2265 1083 2269 1096 2273 1109 2276 1122 2279 1135 2281 1148 2282 1161 2283 1174 2284 1187 2285 1200 2284 1213 2284 1226 2283 1239 2282 1252 2281 1265 2279M908 2081 921 2095 934 2109 947 2122 960 2135 973 2147 986 2158 999 2169 1012 2179 1025 2188 1038 2196 1051 2204 1064 2212 1077 2219 1090 2224 1104 2229 1117 2233 1130 2237 1143 2240 1156 2243 1169 2246 1182 2247 1195 2249 1208 2250 1221 2251 1234 2251 1247 2251 1260 2251 1273 2251 1286 2250M955 2071 968 2085 981 2098 994 2110 1007 2122 1020 2133 1033 2143 1046 2153 1059 2162 1072 2170 1085 2178 1098 2186 1111 2193 1124 2198 1137 2203 1150 2207 1163 2211 1176 2214 1189 2217 1202 2219 1215 2221 1228 2223 1242 2224 1255 2225 1268 2225 1281 2226M989 2057 1002 2070 1015 2083 1028 2095 1041 2106 1054 2117 1067 2127 1080 2136 1093 2145 1106 2153 1119 2160 1132 2168 1145 2175 1158 2181 1171 2185 1184 2189 1197 2193 1210 2196 1223 2199 1236 2201 1249 2203 1262 2204 1275 2206" stroke="#004d22" stroke-opacity="0.3" stroke-width="3.4"/>
<path d="M393 1976 404 1944 415 1913 427 1886M477 1984 488 1951 500 1912M539 1981 550 1948 561 1917M589 2012 600 1983 612 1954 623 1924M651 2015 662 1986 673 1958 684 1932M701 2049 712 2023 723 1999 735 1977 746 1956M763 2064 774 2043 785 2024 796 2006 808 1990 819 1977 830 1965M835 2068 847 2053 858 2040 869 2029 881 2020 892 2012 903 2005 915 1999 926 1995 937 1991M920 2071 931 2064 942 2057 954 2051 965 2046 976 2043M1277 2212 1288 2207M1282 2233 1294 2226 1305 2219 1316 2213 1327 2208M1276 2269 1287 2259 1299 2249 1310 2240 1321 2232 1333 2225 1344 2219 1355 2213 1366 2208M393 1976 406 2060M440 1962 453 1988 466 2012M513 1936 526 1959 539 1981 552 2003 565 2024M612 1954 625 1974 638 1994 651 2015 664 2035 677 2056M697 1955 710 1977 723 1999 737 2021 750 2043 763 2064 776 2085M770 1960 783 1983 796 2006 809 2028 822 2048 835 2068 848 2086M843 1988 856 2009 869 2029 882 2048 895 2065 908 2081M1286 2250 1299 2249M890 1985 903 2005 916 2024 929 2042 942 2057 955 2071M1281 2226 1294 2226 1307 2226 1320 2226 1333 2225M924 1971 937 1991 950 2010 963 2028 976 2043 989 2057M1275 2206 1288 2207 1301 2207 1314 2208 1327 2208 1340 2208 1353 2208 1366 2208" stroke="#008c3c" stroke-opacity="0.85" stroke-width="3.8"/>
<path d="M427 1886 438 1859 449 1827 461 1790M500 1912 511 1877 522 1844 534 1811M561 1917 573 1887 584 1855 595 1825M623 1924 634 1895 645 1868 657 1844 668 1821M684 1932 696 1909 707 1886 718 1866 730 1848 741 1832M746 1956 757 1936 769 1919 780 1905 791 1892 803 1881 814 1872 825 1864 837 1857 848 1852 859 1847M830 1965 842 1955 853 1947 864 1940 876 1933 887 1929 898 1925M427 1886 440 1962M474 1858 487 1886 500 1912 513 1936M547 1838 560 1863 573 1887 586 1910 599 1933 612 1954M632 1847 645 1868 658 1889 671 1910 684 1932 697 1955M705 1842 718 1866 731 1889 744 1913 757 1936 770 1960M765 1843 778 1867 791 1892 804 1917 817 1941 830 1965 843 1988M825 1864 838 1890 851 1915 864 1940 877 1964 890 1985M859 1847 872 1873 885 1899 898 1925 911 1949 924 1971" stroke="#3d3000" stroke-opacity="0.66" stroke-width="3.8"/>
<path d="M461 1790 472 1755 483 1723M534 1811 545 1778 556 1746 567 1716M595 1825 606 1797 618 1770 629 1746 640 1723M668 1821 679 1799 691 1781 702 1764 713 1751 725 1739M741 1832 752 1819 764 1807 775 1797 786 1789 798 1781 809 1775 820 1770M461 1790 474 1858M508 1753 521 1782 534 1811 547 1838M580 1744 593 1771 606 1797 619 1822 632 1847M653 1751 666 1776 679 1799 692 1820 705 1842M713 1751 726 1772 739 1795 752 1819 765 1843M773 1764 786 1789 799 1814 812 1839 825 1864M820 1770 833 1795 846 1821 859 1847" stroke="#3a0a03" stroke-opacity="0.66" stroke-width="3.8"/>
<path d="M483 1723 494 1692 506 1660 517 1628 528 1600 540 1573 551 1548 562 1525 574 1506 585 1489 596 1475 608 1464 619 1454 630 1445 641 1438 653 1432 664 1428M567 1716 579 1688 590 1661 601 1637 613 1616 624 1597 635 1581 647 1568 658 1556 669 1545 680 1536 692 1528 703 1521M640 1723 652 1704 663 1687 674 1672 686 1660 697 1649 708 1639 719 1631 731 1624 742 1619M725 1739 736 1729 747 1720 758 1712 770 1706 781 1701" stroke="#4a0008" stroke-opacity="0.45" stroke-width="5" filter="url(#soft3)"/>
<path d="M494 1692 508 1753M528 1600 541 1653 554 1684 567 1716 580 1744M562 1525 575 1571 588 1603 601 1637 614 1667 627 1695 640 1723 653 1751M596 1475 609 1512 622 1546 635 1581 648 1613 661 1643 674 1672 687 1701 700 1728 713 1751M630 1445 643 1474 656 1508 669 1545 682 1578 695 1609 708 1639 721 1669 734 1697 747 1720 760 1741 773 1764M664 1428 677 1448 690 1483 703 1521 716 1555 729 1587 742 1619 755 1650 768 1678 781 1701 794 1722 807 1745 820 1770" stroke="#4a0008" stroke-opacity="0.45" stroke-width="5" filter="url(#soft3)"/>
</g>
<g clip-path="url(#cpS1)"><path d="M522 2228 536 2246 550 2263 565 2281 579 2297 593 2314 608 2330 622 2345 636 2361 651 2376 665 2390 679 2404 694 2417 708 2430 722 2442 737 2453 751 2464 765 2473 780 2482 794 2490 808 2496 823 2502 837 2507 851 2510 866 2513 880 2514 894 2515 909 2514 923 2514 937 2513 952 2511 966 2507 980 2503 995 2499 1009 2494 1023 2488 1038 2482 1052 2475 1066 2466 1081 2457 1095 2447" fill="none" stroke="#00602c" stroke-opacity="0.5" stroke-width="46" filter="url(#blur6)"/></g>
<path d="M392.8 1976.5 399.8 1956.0 406.7 1936.3 413.7 1917.4 420.6 1899.8 427.6 1883.8 434.5 1867.9 441.5 1850.4 448.4 1829.9 455.4 1807.0 462.3 1783.8 469.3 1762.3 476.2 1742.3 483.2 1723.1 490.2 1703.9 497.1 1684.4 504.1 1664.5 511.0 1644.9 518.0 1626.1 524.9 1608.4 531.9 1591.2 538.8 1574.9 545.8 1559.4 552.7 1544.5 559.7 1530.2 566.6 1517.2 573.6 1505.7 580.6 1495.2 587.5 1485.6 594.5 1477.1 601.4 1469.7 608.4 1462.9 615.3 1456.7 622.3 1451.1 629.2 1446.0 636.2 1441.3 643.1 1437.2 650.1 1433.7 657.0 1430.6 664.0 1428.0 672.9 1440.1 681.8 1458.9 690.7 1484.6 699.6 1511.7 708.5 1535.6 717.4 1558.3 726.2 1580.3 735.1 1601.9 744.0 1623.3 752.9 1644.6 761.8 1664.6 770.7 1682.6 779.6 1698.4 788.5 1713.0 797.4 1727.7 806.3 1743.6 815.2 1760.3 824.1 1777.6 833.0 1795.0 841.8 1812.6 850.7 1830.4 859.6 1848.3 868.5 1866.1 877.4 1883.9 886.3 1901.5 895.2 1919.0 904.1 1936.3 913.0 1952.6 921.9 1967.5 930.8 1981.6 939.7 1995.0 948.6 2008.1 957.4 2020.6 966.3 2031.8 975.2 2041.9 984.1 2051.3 993.0 2060.6 1001.9 2069.8 1010.8 2078.7 1019.7 2087.1 1028.6 2095.2 1037.5 2102.9 1046.4 2110.4 1055.3 2117.7 1064.2 2124.6 1073.1 2131.2 1081.9 2137.5 1090.8 2143.4 1099.7 2148.9 1108.6 2154.1 1117.5 2159.3 1126.4 2164.8 1135.3 2170.2 1144.2 2174.7 1153.1 2178.5 1162.0 2182.0 1170.9 2185.2 1179.8 2188.1 1188.7 2190.7 1197.5 2192.9 1206.4 2195.1 1215.3 2197.0 1224.2 2198.8 1233.1 2200.4 1242.0 2201.7 1250.9 2202.9 1259.8 2204.0 1268.7 2205.0 1277.6 2205.9 1286.5 2206.6 1295.4 2207.0 1304.3 2207.3 1313.1 2207.6 1322.0 2207.8 1330.9 2208.0 1339.8 2208.2 1348.7 2208.3 1357.6 2208.4 1366.5 2208.4 1357.1 2212.3 1347.8 2216.8 1338.4 2221.9 1329.1 2227.4 1319.7 2233.3 1310.3 2239.9 1301.0 2247.3 1291.6 2255.3 1282.2 2263.4 1272.9 2271.6 1263.5 2280.3 1254.2 2289.2 1244.8 2298.2 1235.4 2307.2 1226.1 2316.5 1216.7 2326.7 1207.3 2338.8 1198.0 2351.4 1188.6 2362.8 1179.3 2373.1 1169.9 2383.2 1160.5 2393.8 1151.2 2404.5 1141.8 2414.0 1132.4 2421.8 1123.1 2428.9 1113.7 2435.3 1104.4 2441.4 1095.0 2447.0 1084.8 2454.2 1074.6 2461.1 1064.5 2467.4 1054.3 2473.3 1044.1 2478.6 1033.9 2483.4 1023.8 2487.9 1013.6 2492.0 1003.4 2495.8 993.2 2499.2 983.1 2502.4 972.9 2505.5 962.7 2508.3 952.5 2510.6 942.3 2512.1 932.2 2512.9 922.0 2513.7 911.8 2514.2 901.6 2514.6 891.5 2514.8 881.3 2514.5 871.1 2513.4 860.9 2511.7 850.8 2509.6 840.6 2507.4 830.4 2504.8 820.2 2501.3 810.0 2497.1 799.9 2492.4 789.7 2487.4 779.5 2482.1 769.3 2476.0 759.2 2469.3 749.0 2462.2 738.8 2454.9 728.6 2447.2 718.5 2438.9 708.3 2430.2 698.1 2421.2 687.9 2412.0 677.8 2402.5 667.6 2392.6 657.4 2382.4 647.2 2371.9 637.0 2361.3 626.9 2350.6 616.7 2339.6 606.5 2328.4 596.3 2317.0 586.2 2305.5 576.0 2293.7 565.8 2281.8 555.6 2269.6 545.5 2257.2 535.3 2244.6 525.1 2231.9 514.9 2218.8 504.7 2205.6 494.6 2192.2 484.4 2178.7 474.2 2165.2 464.0 2151.6 453.9 2137.7 443.7 2123.1 433.5 2107.9 423.3 2092.0 413.2 2073.6 403.0 2055.1Z" fill="none" stroke="#111" stroke-opacity="0.42" stroke-width="3"/>
</g>
</g>
<text transform="translate(186.3 1248) scale(1 1.035)" font-size="83.6" text-anchor="middle">Predicted</text>
<text transform="translate(184 1347.5) scale(1 1.035)" font-size="84" text-anchor="middle">ln(TON)</text>
<text transform="translate(423.6 2662) scale(1 1.035)" font-size="84" text-anchor="middle">PC1</text>
<text transform="translate(1609 2710) scale(1 1.035)" font-size="84" text-anchor="middle">PC2</text>
<path d="M461 2654.2h18.4v8.6h-18.4zM487.3 2654.2h15v8.6h-15z" fill="#fff"/>
</g>
<g id="chem">
<polygon points="166.0,209.2 255.0,259.5 255.0,363.6 166.0,415.0 77.0,363.6 77.0,259.5" fill="none" stroke="#000" stroke-width="5.0" stroke-linejoin="miter"/>
<line x1="93.6" y1="272.2" x2="166.8" y2="229.6" stroke="#000" stroke-width="5.0" stroke-linecap="round"/>
<line x1="93.6" y1="353.4" x2="166.8" y2="393.7" stroke="#000" stroke-width="5.0" stroke-linecap="round"/>
<line x1="237.2" y1="270.5" x2="237.2" y2="356.0" stroke="#000" stroke-width="5.0" stroke-linecap="round"/>
<rect x="225" y="305" width="45" height="28.5" fill="#fff"/>
<line x1="194.0" y1="319.0" x2="266.5" y2="319.0" stroke="#000" stroke-width="5.0" stroke-linecap="round"/>
<line x1="166.0" y1="209.2" x2="166.0" y2="141.0" stroke="#000" stroke-width="5.0" stroke-linecap="round"/>
<text transform="translate(167.5 134.0) scale(1 1.035)" font-size="72.15" text-anchor="middle" >X</text>
<text transform="translate(272.5 347.8) scale(1 1.035)" font-size="72.15" text-anchor="start" >R</text>
<text transform="translate(326.0 363.6) scale(1 1.035)" font-size="54.5" text-anchor="start" >1</text>
<path d="M327.5 358.6h11.5v6.2h-11.5zM345 358.6h10.5v6.2h-10.5z" fill="#fff"/>
<text transform="translate(439.0 273.6) scale(1 1.035)" font-size="72.15" text-anchor="middle" >+</text>
<line x1="504.5" y1="264.1" x2="605.0" y2="264.1" stroke="#000" stroke-width="5.0" stroke-linecap="round"/>
<line x1="504.5" y1="282.8" x2="607.9" y2="282.8" stroke="#000" stroke-width="5.0" stroke-linecap="round"/>
<line x1="607.9" y1="282.8" x2="661.5" y2="252.3" stroke="#000" stroke-width="5.0" stroke-linecap="round"/>
<text transform="translate(672.8 260.3) scale(1 1.035)" font-size="72.15" text-anchor="start" >R</text>
<text transform="translate(723.5 275.6) scale(1 1.035)" font-size="54.5" text-anchor="start" >2</text>
<line x1="814.4" y1="250.5" x2="1225.0" y2="250.5" stroke="#000" stroke-width="5" stroke-linecap="butt"/>
<polygon points="1261,250.5 1216.5,238.6 1225,250.5 1216.5,262.2" fill="#000"/>
<text transform="translate(1018.5 188.3) scale(1 1.035)" font-size="72.15" text-anchor="middle" >Pd-ligand</text>
<text transform="translate(1009.5 346.5) scale(1 1.035)" font-size="72.15" text-anchor="middle" >Solvent</text>
<polygon points="1419.4,273.0 1508.7,324.0 1508.7,428.6 1419.4,479.6 1330.1,428.6 1330.1,324.0" fill="none" stroke="#000" stroke-width="5.0" stroke-linejoin="miter"/>
<line x1="1347.2" y1="336.2" x2="1419.9" y2="294.6" stroke="#000" stroke-width="5.0" stroke-linecap="round"/>
<line x1="1347.2" y1="417.1" x2="1419.9" y2="457.9" stroke="#000" stroke-width="5.0" stroke-linecap="round"/>
<line x1="1490.3" y1="334.2" x2="1490.3" y2="419.6" stroke="#000" stroke-width="5.0" stroke-linecap="round"/>
<rect x="1478" y="369.5" width="45" height="28.5" fill="#fff"/>
<line x1="1454.0" y1="383.4" x2="1526.5" y2="383.4" stroke="#000" stroke-width="5.0" stroke-linecap="round"/>
<line x1="1419.4" y1="273.0" x2="1419.4" y2="169.6" stroke="#000" stroke-width="5.0" stroke-linecap="round"/>
<line x1="1419.4" y1="169.6" x2="1520.7" y2="141.6" stroke="#000" stroke-width="5.0" stroke-linecap="round"/>
<line x1="1414.8" y1="152.3" x2="1502.3" y2="127.0" stroke="#000" stroke-width="5.0" stroke-linecap="round"/>
<line x1="1520.7" y1="141.6" x2="1520.7" y2="72.0" stroke="#000" stroke-width="5.0" stroke-linecap="round"/>
<text transform="translate(1495.3 67.6) scale(1 1.035)" font-size="72.15" text-anchor="start" >R</text>
<text transform="translate(1546.0 83.7) scale(1 1.035)" font-size="54.5" text-anchor="start" >2</text>
<text transform="translate(1533.5 412.0) scale(1 1.035)" font-size="72.15" text-anchor="start" >R</text>
<text transform="translate(1587.5 428.6) scale(1 1.035)" font-size="54.5" text-anchor="start" >1</text>
<path d="M1589.5 423.6h11.5v6.2h-11.5zM1606 423.6h10.5v6.2h-10.5z" fill="#fff"/>
<text transform="translate(1636.0 273.7) scale(1 1.035)" font-size="72.15" text-anchor="middle" >+</text>
<text transform="translate(1763.0 271.9) scale(1 1.035)" font-size="72.15" text-anchor="start" >HX</text>
<text id="l1" transform="translate(102.5 669.5) scale(1 1.035)" font-size="72.15">R<tspan font-size="54.5" dy="15.27">1</tspan><tspan dy="-15.27" font-size="1">&#8203;</tspan>=H,OH,CHO,Mme,OAc,OBz,NH<tspan font-size="54.5" dy="15.27">2</tspan><tspan dy="-15.27" font-size="1">&#8203;</tspan>,OMe,NHCOMe,</text>
<path d="M156.5 679.6h10.5v6.2h-10.5zM173 679.6h10.5v6.2h-10.5z" fill="#fff"/>
<text id="l2" transform="translate(202.0 751.5) scale(1 1.035)" font-size="72.15">NO<tspan font-size="54.5" dy="15.27">2</tspan><tspan dy="-15.27" font-size="1">&#8203;</tspan>,CN,COMe,CO<tspan font-size="54.5" dy="15.27">2</tspan><tspan dy="-15.27" font-size="1">&#8203;</tspan>Me,F,N(Me)<tspan font-size="54.5" dy="15.27">2</tspan><tspan dy="-15.27" font-size="1">&#8203;</tspan>,CF<tspan font-size="54.5" dy="15.27">3</tspan><tspan dy="-15.27" font-size="1">&#8203;</tspan></text>
<text id="l3" transform="translate(102.5 956.5) scale(1.0018 1.035)" font-size="72.15">R<tspan font-size="54.5" dy="15.27">2</tspan><tspan dy="-15.27" font-size="1">&#8203;</tspan>=CO<tspan font-size="54.5" dy="15.27">2</tspan><tspan dy="-15.27" font-size="1">&#8203;</tspan>Bu,CO<tspan font-size="54.5" dy="15.27">2</tspan><tspan dy="-15.27" font-size="1">&#8203;</tspan>Me,Ph,CO<tspan font-size="54.5" dy="15.27">2</tspan><tspan dy="-15.27" font-size="1">&#8203;</tspan>H,(CO<tspan font-size="54.5" dy="15.27">2</tspan><tspan dy="-15.27" font-size="1">&#8203;</tspan>)Et,CON(Et)<tspan font-size="54.5" dy="15.27">2</tspan><tspan dy="-15.27" font-size="1">&#8203;</tspan>,CN</text>
</g>
</svg>
</body></html>
